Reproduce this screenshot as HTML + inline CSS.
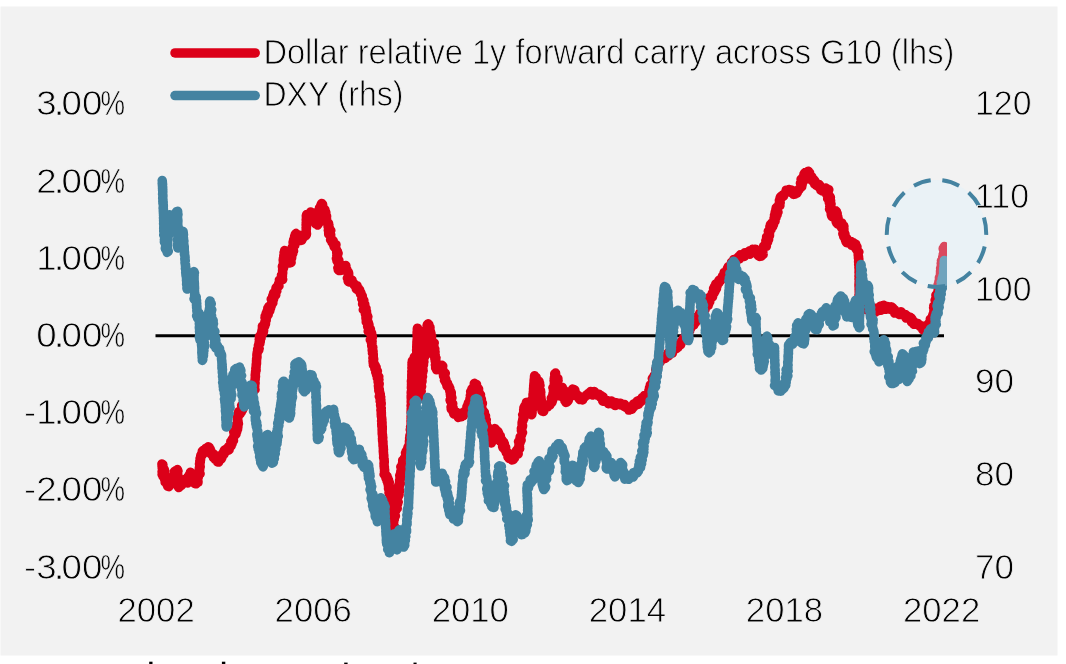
<!DOCTYPE html>
<html><head><meta charset="utf-8"><title>Chart</title>
<style>
html,body{margin:0;padding:0;background:#fff;}
body{width:1066px;height:664px;overflow:hidden;position:relative;}
svg{display:block;position:absolute;left:0;top:0;}
text{font-family:"Liberation Sans",sans-serif;font-size:35.6px;fill:#000;stroke:#f2f2f2;stroke-width:0.85px;vector-effect:non-scaling-stroke;}
</style></head><body>
<svg width="1066" height="664" viewBox="0 0 1066 664">
<rect x="0" y="0" width="1066" height="664" fill="#ffffff"/>
<rect x="0.5" y="6.5" width="1057" height="649" fill="#f2f2f2"/>
<g fill="#000"><rect x="149.2" y="661.7" width="3.3" height="2.3"/><rect x="221.9" y="661.7" width="3.4" height="2.3"/><rect x="344.2" y="662.6" width="3.4" height="1.4"/><rect x="413.5" y="662.6" width="3.1" height="1.4"/></g>
<clipPath id="plot"><rect x="150" y="150" width="797" height="420"/></clipPath>
<line x1="155.5" y1="335.8" x2="944" y2="335.8" stroke="#000" stroke-width="3"/>
<g clip-path="url(#plot)" fill="none" stroke-width="9.5" stroke-linejoin="round" stroke-linecap="round">
<polyline stroke="#dc0019" points="161.9,464.0 162.9,464.8 162.1,465.9 162.8,466.7 162.2,467.8 162.3,468.7 164.2,469.3 164.5,470.2 162.1,471.6 164.1,472.2 164.3,473.1 162.1,474.5 163.9,475.1 162.9,476.2 164.1,477.0 164.6,477.8 164.6,479.0 166.4,479.2 165.4,480.7 165.2,481.9 166.6,482.3 166.4,483.5 167.0,484.3 169.2,484.3 167.6,486.2 168.8,486.7 169.4,485.9 168.9,484.7 168.5,483.5 171.3,483.6 170.5,482.3 171.6,481.7 172.4,481.0 172.3,479.9 173.3,479.3 172.1,477.8 173.6,477.4 173.0,476.1 173.5,475.3 175.2,475.2 175.6,474.3 174.1,472.1 174.7,471.4 175.5,470.7 178.0,471.1 177.3,469.5 177.4,470.5 177.4,471.4 177.6,472.4 177.6,473.3 177.7,474.3 177.8,475.2 177.7,476.2 177.8,477.1 177.7,478.1 177.9,479.0 177.8,480.0 178.0,480.9 178.0,481.9 178.2,482.8 178.5,483.8 178.2,484.8 178.2,485.7 178.3,486.7 178.6,487.6 179.3,486.9 180.2,486.4 179.4,484.8 181.6,485.1 181.4,483.8 181.2,482.5 181.2,481.4 183.8,482.0 184.6,481.4 183.9,479.8 185.6,479.2 184.7,481.9 186.4,481.4 187.8,481.3 187.7,482.9 187.3,481.8 189.0,481.2 189.6,480.3 187.3,478.7 189.3,478.2 187.9,476.8 190.1,476.3 189.2,475.1 191.1,474.5 191.7,473.6 190.5,472.3 190.9,473.2 190.0,474.8 192.3,474.7 193.4,475.3 192.4,476.9 194.4,477.0 194.4,478.1 194.2,479.3 194.1,480.4 195.8,480.7 196.5,481.4 194.6,483.4 196.1,483.8 195.8,482.7 198.0,482.3 198.0,481.3 196.7,479.9 197.2,479.0 197.6,478.1 198.3,477.3 198.4,476.3 198.5,475.3 198.9,474.4 200.1,473.7 199.1,472.5 199.3,471.5 199.3,470.6 199.7,469.6 199.3,468.7 199.4,467.7 200.2,466.8 199.9,465.9 200.0,464.9 199.5,463.9 200.0,463.0 200.3,462.1 199.8,461.1 200.5,460.2 200.6,459.3 200.1,458.3 200.8,457.4 200.7,456.4 200.8,455.5 201.8,455.2 201.5,453.9 202.9,453.9 203.5,453.3 202.4,451.2 203.0,450.6 204.6,450.8 205.7,450.5 207.0,450.5 205.9,448.2 207.0,448.0 208.0,447.7 208.4,446.8 209.3,447.4 209.6,448.3 210.2,449.1 210.4,450.0 210.2,451.2 211.4,451.7 211.6,452.6 210.9,454.0 212.1,454.5 213.8,454.2 213.1,456.0 213.3,457.1 215.0,456.9 215.8,457.4 215.0,459.3 216.9,458.8 217.6,459.4 217.7,460.6 217.6,461.8 218.7,462.1 217.9,460.7 219.0,460.2 219.4,459.3 221.2,459.1 220.4,457.8 222.0,457.5 220.4,455.7 221.3,455.1 222.5,454.6 222.5,453.6 224.1,454.1 223.9,452.2 224.0,451.0 224.5,450.1 226.2,450.6 226.2,449.0 228.4,450.1 229.2,449.6 229.1,448.0 228.6,446.7 229.3,446.0 231.1,445.8 231.1,444.7 231.9,444.1 231.0,442.6 230.8,441.5 231.6,440.8 233.5,440.6 232.4,439.0 233.0,438.3 233.8,437.6 233.8,436.6 234.0,435.7 234.2,434.7 236.0,434.1 233.9,432.6 233.7,431.6 236.8,431.3 236.8,430.3 237.4,429.5 236.0,428.1 237.8,427.6 237.9,426.6 236.0,425.1 237.9,424.6 238.4,423.7 237.6,422.5 238.1,421.6 237.9,420.6 237.5,419.6 237.7,418.7 237.6,417.7 237.4,416.8 238.6,416.0 238.5,415.0 238.3,413.8 240.2,413.7 238.6,411.7 241.4,412.0 241.2,410.9 242.3,410.3 242.7,409.4 243.1,408.5 242.7,407.2 241.6,405.5 244.0,405.6 242.9,404.0 243.7,403.3 245.1,402.9 245.2,401.8 245.3,400.8 246.0,400.0 247.7,400.0 247.4,398.6 247.3,397.3 247.6,396.4 249.8,396.7 249.3,395.2 250.7,394.9 250.2,393.3 250.3,392.3 251.8,392.1 253.0,391.8 252.0,389.8 254.1,390.1 255.0,389.6 254.5,388.0 254.7,387.0 254.8,386.1 254.5,385.1 254.9,384.1 255.1,383.1 254.7,382.1 254.9,381.2 255.0,380.2 255.2,379.2 255.2,378.3 255.3,377.3 255.5,376.3 255.2,375.3 255.3,374.4 255.5,373.4 255.5,372.4 255.6,371.4 256.1,370.5 256.1,369.5 255.8,368.5 256.1,367.6 256.1,366.6 256.2,365.6 256.2,364.6 256.5,363.7 256.5,362.7 256.5,361.7 256.5,360.7 256.6,359.8 256.6,358.8 256.9,357.8 257.0,356.9 256.9,355.9 256.9,354.9 257.0,353.9 257.2,353.0 257.3,352.0 257.8,351.1 258.6,350.3 257.6,349.1 259.1,348.4 258.7,347.4 258.4,346.3 258.4,345.3 259.0,344.4 259.8,343.6 259.2,342.5 260.2,341.7 259.7,340.6 259.3,339.5 260.4,338.8 261.1,338.0 259.4,336.6 260.7,335.9 261.1,335.0 261.1,334.0 262.8,333.5 263.2,332.6 261.8,331.2 263.6,330.7 263.6,329.7 262.3,328.3 263.2,327.5 262.4,326.3 264.8,326.0 264.6,324.9 265.5,324.2 265.5,323.2 264.9,322.0 265.7,321.2 266.2,320.3 266.0,319.2 265.0,317.8 266.7,317.4 265.3,315.9 266.0,315.0 268.2,314.7 266.3,313.1 266.8,312.2 267.1,311.2 269.8,311.0 268.0,309.4 267.8,308.3 270.6,308.2 268.8,306.5 271.2,306.3 270.5,305.0 271.3,304.3 272.2,303.6 272.8,302.9 272.1,301.6 273.0,300.9 271.2,299.2 273.6,299.1 273.2,298.0 274.1,297.3 272.7,295.7 274.9,295.6 275.8,294.9 273.6,293.0 274.7,292.5 275.7,291.8 276.8,291.2 276.2,290.0 275.9,288.8 276.1,287.9 276.7,287.1 278.1,286.7 278.9,286.0 278.3,284.7 278.6,283.8 279.1,283.0 279.4,282.1 280.0,281.3 279.4,280.0 281.0,279.7 282.7,279.5 281.8,278.0 281.8,277.0 282.4,276.1 281.6,275.0 282.5,274.1 282.7,273.1 282.7,272.1 282.6,271.1 282.6,270.1 283.0,269.2 283.5,268.2 282.4,267.1 282.4,266.1 283.5,265.3 283.9,264.3 283.4,263.3 283.4,262.3 283.9,261.3 283.2,260.3 283.4,259.3 283.4,258.3 284.1,257.4 283.8,256.4 283.8,255.4 284.6,254.5 285.1,253.5 284.2,252.4 284.9,251.5 284.7,250.5 285.3,251.3 284.3,252.7 285.5,253.3 286.7,253.8 287.2,254.7 288.1,255.4 287.1,256.8 287.7,257.6 288.7,258.2 288.5,259.3 288.9,260.2 287.9,261.6 290.1,261.8 289.4,263.1 291.1,262.5 289.8,261.2 290.3,260.3 290.2,259.3 291.5,258.6 291.7,257.6 291.1,256.5 291.0,255.5 292.0,254.7 292.6,253.8 291.4,252.6 292.7,251.8 293.6,251.0 292.3,249.8 291.8,248.6 292.0,247.7 293.7,247.1 293.8,246.1 294.8,245.3 294.7,244.3 293.1,242.9 293.1,242.0 293.6,241.0 293.6,240.0 295.3,239.4 296.0,238.6 296.4,237.7 294.6,236.3 296.7,235.8 295.2,234.4 296.0,233.6 296.7,234.2 296.5,235.5 298.6,235.1 299.1,235.9 297.8,238.0 299.7,237.8 300.0,238.6 300.0,239.8 300.7,240.4 301.8,240.1 300.9,237.8 302.4,237.9 303.3,237.4 304.2,236.8 304.2,235.4 305.8,235.6 306.3,234.7 306.5,233.7 306.2,232.7 306.3,231.7 306.1,230.7 306.2,229.7 306.4,228.7 306.1,227.7 306.5,226.7 306.5,225.7 306.1,224.8 306.5,223.8 306.2,222.8 306.4,221.8 306.4,220.8 306.2,219.8 306.4,218.8 306.4,217.8 306.4,216.8 306.3,215.8 306.7,214.5 308.4,216.1 309.6,216.5 309.9,215.0 310.5,214.1 310.6,212.0 312.1,213.2 312.9,212.8 313.7,213.5 312.9,214.8 313.4,215.6 314.0,216.4 315.5,216.8 314.5,218.2 314.9,219.1 316.5,219.5 314.8,221.1 315.8,221.8 317.7,222.0 315.7,223.8 318.3,223.8 317.6,225.1 317.3,224.1 318.6,223.4 318.4,222.3 318.5,221.4 319.0,220.5 318.6,219.4 318.3,218.4 318.1,217.4 317.9,216.4 320.1,215.8 320.4,214.9 319.9,213.9 320.7,213.0 319.7,211.9 319.6,210.9 320.2,210.0 321.8,209.4 319.5,207.9 321.1,207.3 320.5,206.2 322.3,205.5 321.2,204.4 321.8,203.5 322.6,204.3 322.6,205.3 322.5,206.4 322.1,207.5 323.6,208.1 322.4,209.5 324.9,209.8 324.7,210.9 325.5,211.7 325.8,212.6 324.0,214.2 324.5,215.1 326.4,215.5 326.6,216.5 326.0,217.7 326.5,218.6 325.7,219.8 325.8,220.8 326.2,221.7 326.9,222.5 328.5,223.1 328.0,224.2 328.8,225.0 328.1,226.2 328.2,227.2 329.5,227.9 329.6,228.8 328.3,230.2 330.8,230.6 328.7,232.1 328.7,233.1 328.7,234.1 330.7,234.6 330.4,235.7 330.8,236.6 330.9,237.6 331.2,238.5 330.6,239.8 331.8,240.3 333.2,240.7 332.0,242.3 333.5,242.7 333.5,243.7 333.5,244.7 336.0,244.7 334.1,246.5 334.8,247.3 335.7,247.9 336.0,248.9 336.4,249.7 336.6,250.6 337.4,251.5 336.7,252.6 338.1,253.3 337.1,254.5 336.8,255.5 337.5,256.3 337.3,257.3 336.4,258.4 336.7,259.3 338.8,260.0 337.2,261.2 337.8,262.1 339.4,262.8 338.7,263.9 339.2,264.8 339.7,265.7 338.7,266.8 337.8,267.9 339.5,268.6 338.2,269.8 339.3,270.6 340.5,270.6 339.9,268.4 342.3,270.0 342.5,268.7 344.0,269.1 344.2,267.9 345.0,267.4 344.8,265.7 345.9,265.6 345.1,266.7 344.9,267.7 345.3,268.7 346.8,269.4 345.9,270.5 346.9,271.3 348.3,272.1 348.6,273.0 348.7,274.0 348.5,275.0 348.8,276.0 347.9,277.1 347.4,278.2 348.1,279.0 348.6,279.9 348.1,281.0 348.7,281.9 348.5,280.9 349.2,280.5 350.4,280.1 350.0,279.1 350.8,279.7 352.0,280.0 350.8,282.2 351.8,282.6 353.3,282.7 353.8,283.5 354.0,284.6 354.5,285.5 356.0,285.6 357.1,285.9 357.2,287.1 356.3,288.9 358.5,288.5 358.3,289.9 359.6,290.2 359.4,291.5 360.6,292.2 361.0,293.1 360.6,294.2 361.6,295.0 362.3,295.8 362.3,296.8 362.4,297.8 361.8,299.0 363.4,299.6 363.8,300.5 362.8,301.8 363.2,302.7 362.6,304.0 364.8,304.3 364.1,305.6 364.1,306.6 364.6,307.5 366.0,308.2 363.3,309.7 365.8,310.2 366.4,311.0 365.4,312.2 366.6,312.9 365.4,314.2 366.5,314.9 367.4,315.7 367.8,316.6 365.9,318.0 367.5,318.7 366.2,319.9 367.4,320.7 366.2,321.9 368.3,322.4 367.9,323.5 368.9,324.3 369.0,325.2 367.6,326.5 368.4,327.4 369.4,328.1 370.4,328.9 368.8,330.2 368.2,331.4 369.5,332.1 371.5,332.6 371.7,333.6 371.7,334.6 371.6,335.6 372.3,336.4 372.4,337.4 370.8,338.7 370.3,339.8 371.7,340.5 372.1,341.4 371.4,342.5 372.0,343.4 371.8,344.4 371.7,345.4 371.8,346.4 372.8,347.3 372.6,348.3 372.4,349.3 372.2,350.3 373.1,351.2 373.0,352.2 372.5,353.2 373.3,354.1 373.2,355.1 373.3,356.1 373.1,357.1 372.9,358.1 373.7,359.0 373.5,360.0 373.0,361.1 373.3,362.1 373.2,363.1 374.3,363.8 373.4,365.0 375.3,365.5 375.4,366.5 376.2,367.3 374.8,368.7 375.9,369.4 376.8,370.2 377.3,371.0 375.9,372.4 376.5,373.2 376.4,374.3 377.6,375.0 377.5,376.0 378.8,376.7 377.3,378.0 378.2,378.8 378.9,379.7 378.4,380.7 378.1,381.8 378.4,382.7 379.2,383.6 379.1,384.6 378.4,385.7 378.8,386.6 378.6,387.6 378.7,388.6 379.3,389.5 378.8,390.5 379.1,391.5 379.8,392.4 379.8,393.4 380.3,394.3 380.0,395.3 379.3,396.4 380.6,397.2 380.0,398.3 380.7,399.2 380.9,400.1 380.2,401.2 380.9,402.1 381.2,403.1 381.2,404.0 380.6,405.1 380.8,406.0 381.0,407.0 381.3,408.0 381.2,409.0 380.9,410.0 381.3,411.0 381.2,412.0 381.4,413.0 381.2,414.0 381.4,414.9 381.3,415.9 381.5,416.9 381.7,417.9 381.8,418.9 381.9,419.9 381.6,420.9 382.0,421.9 382.1,422.9 381.7,423.9 382.1,424.9 381.8,425.9 382.3,426.8 382.1,427.8 382.3,428.8 382.1,429.8 382.2,430.8 382.2,431.8 382.2,432.8 382.2,433.8 382.5,434.8 382.5,435.8 382.6,436.8 382.8,437.7 382.5,438.8 382.7,439.7 382.6,440.7 383.0,441.7 382.9,442.7 383.0,443.7 383.0,444.7 383.0,445.7 383.3,446.6 383.3,447.6 383.3,448.6 383.5,449.6 383.3,450.6 383.3,451.5 383.5,452.5 383.5,453.5 383.6,454.5 383.8,455.4 383.8,456.4 383.6,457.4 383.9,458.4 384.0,459.3 384.2,460.3 384.2,461.3 384.3,462.3 384.0,463.3 384.1,464.2 384.1,465.2 384.1,466.2 384.4,467.1 384.3,468.1 384.5,469.1 384.7,470.1 384.5,471.1 384.5,472.0 384.8,473.0 384.1,474.5 385.8,474.6 385.5,475.9 387.0,476.2 385.9,477.9 387.7,478.0 386.8,479.1 388.5,479.8 387.0,481.0 389.0,481.7 389.3,482.6 387.9,483.8 389.1,484.6 388.7,485.6 388.5,486.6 390.1,487.4 388.5,488.6 389.8,489.4 389.5,490.4 389.9,491.3 389.0,492.4 389.1,493.4 390.4,494.2 391.0,495.1 390.6,496.1 390.5,497.1 391.4,497.9 390.5,499.0 390.7,500.0 390.5,501.0 390.6,501.9 390.6,502.9 390.7,503.9 390.8,504.8 391.1,505.8 391.3,506.8 391.3,507.7 391.3,508.7 391.4,509.7 391.4,510.7 391.6,511.6 391.5,512.6 391.8,513.6 391.8,514.5 391.7,515.5 391.8,516.5 392.1,517.4 392.2,518.4 392.0,519.4 392.5,520.3 392.5,521.3 392.4,522.3 392.5,523.3 392.8,524.2 392.9,525.2 392.9,526.2 392.7,527.2 392.9,528.1 393.0,529.1 394.2,528.3 393.9,527.3 394.5,526.4 392.4,525.2 392.9,524.3 392.6,523.3 393.7,522.4 393.6,521.5 393.1,520.4 394.3,519.6 393.4,518.5 394.0,517.6 394.0,516.7 395.4,515.9 394.6,514.8 394.4,513.8 394.0,512.8 395.2,512.0 395.2,511.0 395.9,510.2 396.3,509.3 397.2,508.5 397.0,507.5 395.5,506.2 395.3,505.2 397.4,504.6 397.7,503.7 397.0,502.6 398.1,501.9 397.5,500.8 396.8,499.7 396.6,498.7 396.3,497.7 398.0,497.0 398.4,496.1 399.0,495.1 399.1,494.2 398.4,493.1 398.9,492.2 399.5,491.2 399.4,490.2 399.1,489.2 398.8,488.2 399.2,487.2 398.6,486.2 398.7,485.2 399.8,484.4 400.5,483.4 399.8,482.4 399.6,481.4 399.6,480.4 399.9,479.4 400.7,478.5 400.1,477.5 401.2,476.6 399.8,475.5 400.2,474.5 400.7,473.6 400.8,472.6 400.8,471.6 402.3,471.1 402.5,470.1 403.1,469.3 402.3,468.1 400.8,466.8 402.7,466.3 402.9,465.3 402.9,464.4 402.5,463.3 404.0,462.7 404.9,462.0 402.7,460.4 404.6,460.0 404.0,458.8 404.6,458.0 405.0,457.1 406.5,456.6 407.0,455.8 406.5,454.5 405.5,453.0 408.0,452.9 406.2,451.2 407.2,450.5 408.8,450.1 407.7,448.6 407.9,447.6 410.2,447.4 409.3,446.0 409.8,445.1 409.3,444.1 409.5,443.1 409.5,442.2 409.4,441.2 409.6,440.3 410.3,439.4 409.6,438.3 409.8,437.4 409.9,436.4 409.9,435.5 410.4,434.5 410.6,433.6 410.8,432.7 410.7,431.7 411.0,430.8 410.3,429.7 410.7,428.8 411.4,427.9 410.6,426.9 410.9,425.9 411.2,425.0 411.2,424.0 411.1,423.0 411.2,422.1 411.0,421.1 411.1,420.1 411.5,419.1 411.1,418.2 411.5,417.2 411.1,416.2 411.5,415.2 411.4,414.3 411.4,413.3 411.1,412.3 411.1,411.3 411.4,410.4 411.2,409.4 411.2,408.4 411.5,407.4 411.5,406.5 411.1,405.5 411.6,404.5 411.4,403.5 411.3,402.6 411.2,401.6 411.3,400.6 411.6,399.6 411.3,398.7 411.2,397.7 411.2,396.7 411.2,395.7 411.4,394.8 411.6,393.8 411.2,392.8 411.3,391.8 411.7,390.9 411.7,389.9 411.7,388.9 411.4,387.9 411.4,387.0 411.7,386.0 411.5,385.0 411.5,384.0 411.7,383.1 411.5,382.1 411.4,381.2 411.6,380.2 411.8,379.3 411.9,378.3 411.8,377.4 411.8,376.4 411.8,375.5 411.8,374.5 411.9,373.5 412.1,372.6 411.8,371.6 412.0,370.7 412.2,369.7 412.2,368.8 411.9,367.8 412.3,366.9 412.3,365.9 412.0,364.9 412.2,364.0 412.0,362.8 412.3,362.0 412.3,360.9 415.3,361.5 414.2,359.9 415.9,359.8 414.2,357.8 414.4,356.9 417.2,357.4 416.6,356.0 416.8,355.0 416.9,354.0 416.8,353.0 416.7,352.0 416.9,351.1 416.6,350.1 416.8,349.1 416.8,348.1 416.7,347.1 416.9,346.1 416.8,345.1 416.9,344.1 416.9,343.1 416.9,342.1 417.0,341.2 417.1,340.2 417.3,339.2 417.3,338.2 417.3,337.2 417.3,336.2 417.1,335.2 417.5,334.2 417.1,333.2 417.1,332.3 417.3,331.3 417.5,330.3 417.3,329.3 417.4,328.3 417.4,329.3 417.6,330.3 417.3,331.3 417.6,332.3 417.6,333.3 417.6,334.2 417.5,335.2 417.5,336.2 417.7,337.2 417.8,338.2 417.8,339.2 418.1,340.2 417.9,341.2 417.8,342.2 417.8,343.2 418.2,344.1 417.9,345.1 418.1,346.1 417.9,347.1 418.2,348.1 418.3,349.1 418.2,350.1 418.1,351.1 418.3,352.1 418.2,353.1 418.3,354.1 418.5,355.0 418.5,356.0 418.5,357.0 418.6,358.0 418.6,359.0 418.6,360.0 418.6,361.0 418.5,362.0 418.7,362.9 418.9,363.9 418.9,364.9 418.9,365.9 418.8,366.8 419.1,367.8 419.1,368.8 419.0,369.8 419.1,370.7 419.3,371.7 419.0,372.7 418.9,373.7 419.1,374.7 419.1,375.6 419.1,376.6 419.1,377.6 419.1,378.6 419.3,379.5 419.3,380.5 419.6,381.5 419.2,382.5 419.5,383.4 419.5,384.4 419.3,385.4 419.7,386.4 419.8,387.3 419.5,388.3 419.6,389.3 419.9,390.3 420.0,391.3 419.9,392.2 420.1,393.2 419.7,394.2 420.0,395.2 420.0,396.1 420.0,397.1 420.0,398.1 420.1,397.1 420.1,396.1 420.4,395.2 420.5,394.2 420.4,393.2 420.1,392.2 421.2,391.3 420.9,390.3 420.4,389.3 420.9,388.3 421.3,387.4 421.6,386.4 420.7,385.4 420.8,384.4 421.4,383.4 421.4,382.5 422.0,381.5 422.0,380.5 421.6,379.5 421.8,378.6 422.0,377.6 422.5,376.6 421.8,375.6 422.1,374.6 421.9,373.6 422.6,372.7 422.0,371.7 423.1,370.8 422.7,369.8 422.9,368.8 422.4,367.8 422.7,366.8 423.0,365.9 423.5,364.9 423.3,363.9 423.1,362.9 423.9,362.0 423.7,361.0 423.6,360.0 423.8,359.0 423.2,358.0 423.5,357.0 424.9,356.2 423.4,355.0 424.4,354.1 424.7,353.2 424.2,352.1 425.2,351.3 425.7,350.3 425.7,349.3 425.5,348.3 424.5,347.2 424.3,346.2 425.2,345.3 425.1,344.3 425.0,343.3 426.5,342.5 425.3,341.3 426.7,340.5 427.0,339.6 425.4,338.4 427.2,337.6 426.2,336.5 426.0,335.5 426.0,334.5 425.8,333.5 426.9,332.6 426.8,331.6 427.9,330.7 428.0,329.8 426.5,328.6 427.3,327.7 427.4,326.7 427.1,325.7 427.4,324.7 428.0,323.8 428.9,324.6 427.8,325.8 429.1,326.5 430.0,327.3 429.9,328.4 429.4,329.4 429.2,330.5 430.4,331.2 429.2,332.4 430.9,333.1 429.7,334.3 430.1,335.2 431.6,335.9 430.0,337.2 431.0,338.0 431.6,338.8 431.5,339.8 431.7,340.8 431.9,341.7 432.8,342.4 434.2,342.9 432.4,344.5 432.5,345.5 433.9,346.0 434.0,347.0 434.0,348.0 434.7,348.9 433.6,350.1 434.1,351.0 435.1,351.9 434.1,353.0 433.9,354.0 435.2,354.9 434.1,356.0 435.2,356.9 435.9,357.8 435.0,358.9 435.8,359.8 435.2,360.9 435.5,361.9 436.5,362.8 435.9,363.9 435.4,364.9 436.2,365.8 436.2,366.8 435.7,367.9 436.6,368.8 436.6,369.8 437.3,369.2 438.1,368.9 439.4,369.0 438.6,366.7 439.0,365.8 441.3,367.2 441.4,366.0 442.0,365.3 442.8,366.1 441.2,367.4 441.4,368.3 442.7,369.0 441.5,370.3 442.2,371.1 442.6,372.0 444.2,372.6 445.3,373.3 443.5,374.7 443.5,375.7 444.9,376.3 444.7,377.3 444.6,378.3 445.8,379.1 444.6,380.3 445.2,381.1 445.6,382.0 446.3,382.6 447.5,383.0 446.7,384.5 447.8,384.9 447.1,386.3 449.0,386.3 448.8,387.4 449.8,388.0 449.6,389.1 449.8,390.0 449.7,391.0 451.0,391.9 451.3,392.8 450.4,394.0 451.2,394.9 450.6,395.9 451.6,396.8 451.9,397.8 450.9,398.9 450.1,400.0 450.4,401.0 451.4,401.9 451.8,402.8 452.7,403.7 452.4,404.8 452.4,405.8 451.0,407.0 453.1,407.7 451.2,409.0 452.5,409.8 452.6,410.8 453.5,411.2 454.7,411.2 453.8,413.9 456.4,412.2 456.2,413.9 457.1,414.3 458.6,413.9 459.3,414.6 458.3,417.5 460.2,416.6 461.6,416.7 462.2,415.9 463.4,415.8 462.2,412.9 464.4,413.9 465.2,413.4 464.7,411.3 466.0,411.3 466.8,410.8 468.5,410.3 466.8,408.8 468.4,408.2 466.9,406.8 468.6,406.3 467.7,405.0 468.7,404.3 468.5,403.2 470.3,402.7 470.2,401.7 469.7,400.5 470.5,399.7 470.0,398.6 470.5,397.7 471.7,397.0 470.3,395.6 471.4,394.9 471.8,394.0 471.4,392.8 470.7,391.6 471.3,390.8 473.0,390.2 471.9,388.9 473.8,388.4 473.3,387.2 474.9,386.6 474.8,385.6 474.7,384.5 474.3,383.4 475.1,384.1 476.5,384.4 475.6,386.1 475.5,387.2 475.5,388.3 477.9,388.1 478.5,388.9 476.7,391.0 477.9,391.5 479.0,392.0 479.2,392.9 478.6,394.0 480.5,394.7 479.5,395.8 479.3,396.8 479.6,397.7 481.1,398.4 481.4,399.4 480.0,400.6 479.4,401.6 481.8,402.2 482.4,403.1 482.3,404.1 480.3,405.4 481.7,406.1 481.6,407.1 480.1,408.3 481.8,409.0 481.7,410.0 483.1,410.6 482.0,412.0 484.4,412.3 483.8,413.5 482.8,414.7 484.7,415.2 485.4,416.0 484.2,417.4 485.0,418.1 483.4,419.6 486.3,419.8 484.4,421.3 485.6,422.0 486.2,422.9 485.2,424.2 486.5,424.8 486.1,426.0 487.4,426.6 488.0,427.5 487.5,428.6 486.7,429.9 488.4,430.5 489.0,431.3 488.7,432.4 489.9,433.1 489.5,434.3 488.9,435.4 489.3,436.4 489.4,437.4 490.6,438.1 491.6,438.8 491.9,439.8 491.2,441.0 491.9,441.8 491.2,443.0 491.7,442.1 491.0,440.9 492.8,440.3 492.5,439.2 493.0,438.3 493.4,437.4 493.0,436.3 493.0,435.3 492.9,434.2 492.4,433.1 494.9,432.7 494.2,431.5 493.3,430.2 496.0,429.9 495.0,428.6 495.3,429.6 495.6,430.5 496.6,431.1 497.9,431.5 496.0,433.7 498.8,433.3 498.7,434.5 497.4,436.3 500.3,435.8 499.8,437.3 500.3,438.1 500.7,439.0 501.8,439.6 500.2,441.3 502.1,441.6 503.6,442.0 502.6,443.4 504.4,443.7 502.7,445.5 502.6,446.5 502.9,447.5 505.7,447.3 504.3,449.0 505.7,449.4 505.6,450.5 506.5,451.2 506.3,452.3 507.4,452.7 508.4,453.1 507.7,454.8 509.6,454.6 508.0,457.0 510.9,456.0 509.1,458.5 511.6,457.8 512.5,458.4 512.0,459.9 513.2,459.6 513.2,458.4 514.4,458.1 514.3,456.9 515.1,456.3 514.3,454.6 516.4,454.9 516.5,453.8 518.2,453.9 517.6,452.3 516.3,451.0 516.7,450.1 518.8,449.6 519.7,448.8 518.4,447.5 519.5,446.8 519.3,445.7 519.0,444.7 519.4,443.8 520.0,442.9 518.5,441.6 519.5,440.8 521.1,440.2 519.8,438.9 520.7,438.1 520.2,437.0 520.8,436.1 521.4,435.3 521.7,434.4 522.0,433.4 522.5,432.5 521.8,431.4 521.4,430.4 521.8,429.4 521.4,428.4 521.8,427.5 522.5,426.5 522.6,425.6 522.1,424.5 522.1,423.6 522.1,422.6 522.3,421.6 523.0,420.7 522.7,419.7 523.8,418.8 523.4,417.8 523.1,416.8 523.4,415.8 522.8,414.8 524.1,413.9 524.2,412.9 523.7,411.9 524.4,411.0 523.7,409.9 524.2,409.0 523.9,407.7 524.4,406.9 524.8,406.0 526.4,405.8 527.0,405.0 527.7,404.2 526.4,402.4 528.0,402.2 527.5,403.3 528.6,404.0 529.2,404.8 529.0,405.8 529.5,406.6 530.5,407.3 530.2,408.4 529.7,409.5 529.7,410.4 529.4,411.5 531.8,411.8 530.0,413.3 530.5,414.1 531.7,414.7 531.9,413.7 532.1,412.8 531.7,411.8 532.1,410.8 532.3,409.9 532.0,408.9 532.3,407.9 532.5,406.9 532.3,405.9 532.6,405.0 532.7,404.0 532.5,403.0 532.5,402.0 532.6,401.1 532.9,400.1 532.8,399.1 532.8,398.2 533.0,397.2 533.3,396.2 533.0,395.2 533.0,394.3 533.5,393.3 533.3,392.3 533.4,391.4 533.7,390.4 533.5,389.4 533.5,388.4 533.9,387.5 533.7,386.5 533.7,385.5 534.2,384.6 533.9,383.6 534.3,382.6 534.1,381.6 534.1,380.7 534.2,379.7 534.4,378.7 534.5,377.7 534.5,376.8 534.6,375.8 535.0,376.7 536.1,377.2 535.1,378.9 535.3,379.9 536.3,380.5 536.5,381.5 539.1,381.3 539.0,382.4 539.6,383.2 539.3,384.5 539.9,385.4 538.8,386.5 539.0,387.5 539.1,388.5 539.7,389.4 540.5,390.3 540.1,391.3 540.7,392.3 539.6,393.4 540.6,394.2 540.7,395.2 539.9,396.3 541.0,397.2 540.1,398.3 541.1,399.1 540.7,400.2 541.6,401.1 540.5,402.2 541.3,403.1 541.5,404.0 541.2,405.1 541.4,406.0 542.0,407.0 542.2,407.9 541.7,409.0 542.6,409.9 542.0,410.9 543.7,411.5 543.2,409.2 543.6,408.1 544.8,408.0 545.1,406.7 546.4,406.8 547.7,406.9 548.2,405.9 548.8,405.1 550.0,405.0 549.7,403.9 550.7,403.2 551.9,402.6 551.2,401.3 552.5,400.7 552.0,399.5 551.3,398.2 552.8,397.7 552.3,396.6 553.7,395.8 553.1,394.7 553.0,393.7 553.4,392.8 554.1,391.8 553.4,390.8 553.4,389.8 553.6,388.8 553.0,387.7 554.1,386.8 554.1,385.8 554.2,384.9 554.3,383.9 554.4,382.9 555.0,381.9 554.1,380.8 555.7,380.0 554.2,378.8 555.7,378.0 554.5,376.9 555.8,376.0 554.9,374.9 554.7,373.9 555.6,373.0 555.6,374.0 554.9,375.1 555.0,376.0 555.1,377.0 554.9,378.0 557.9,378.5 557.1,379.6 558.1,380.4 556.2,381.7 557.3,382.5 556.6,383.6 556.6,384.6 556.1,385.7 557.3,386.4 556.8,387.5 558.0,388.3 559.6,389.0 557.3,390.4 559.9,390.9 560.0,391.9 557.9,393.2 559.8,393.9 558.7,395.0 559.4,395.9 558.3,394.6 559.1,393.9 560.9,393.5 559.1,392.0 560.8,391.6 562.4,391.1 560.5,389.5 562.2,389.1 562.6,388.3 562.2,387.2 562.1,388.2 561.9,389.3 562.3,390.2 564.6,390.7 564.3,391.7 563.5,393.0 562.4,394.2 565.0,394.6 564.1,395.9 565.7,396.5 563.8,398.0 565.2,398.6 565.2,399.6 565.0,400.7 566.9,401.3 566.0,402.5 567.1,402.0 567.7,401.2 568.2,400.5 567.0,398.8 567.3,397.9 567.5,397.0 570.0,397.1 569.1,395.7 569.4,394.8 570.2,394.1 571.1,393.5 570.4,392.1 570.9,391.3 572.5,391.1 573.0,390.2 572.6,389.0 573.7,389.5 574.8,389.9 573.2,392.2 574.3,392.7 575.2,393.2 576.3,393.7 575.4,395.5 577.3,395.4 578.4,395.8 579.3,396.4 579.2,397.7 579.2,399.0 580.0,399.6 580.5,398.6 582.6,399.9 582.7,398.4 583.1,397.2 584.3,397.3 585.0,396.5 585.8,396.0 586.3,395.1 587.2,394.6 587.9,393.9 589.5,394.4 589.5,392.8 590.6,391.5 591.2,394.4 592.5,392.3 593.0,395.0 594.5,391.5 595.1,393.6 596.1,393.5 597.0,393.9 597.2,395.1 599.1,394.3 599.6,395.0 600.6,395.3 600.3,397.1 601.0,397.7 603.0,396.7 603.3,397.8 603.9,398.5 602.8,401.2 604.6,400.5 605.5,400.7 606.2,401.5 607.5,400.7 607.7,402.6 608.3,403.6 609.4,403.3 611.4,400.9 611.5,403.1 612.3,403.6 613.9,402.2 614.0,404.4 615.2,405.6 615.7,403.2 616.7,402.9 617.9,404.3 618.8,403.9 619.7,403.4 620.6,403.2 620.5,404.9 622.1,404.5 623.3,404.6 624.7,404.5 624.3,406.5 625.5,406.6 625.9,407.7 627.1,407.8 628.6,407.4 629.3,408.1 629.0,410.1 628.9,408.6 629.4,407.8 631.9,409.2 632.0,407.8 631.8,406.3 633.6,407.0 634.2,406.1 633.5,404.0 635.8,405.2 635.3,403.2 636.6,403.3 638.5,404.3 637.2,401.1 638.3,401.0 639.0,400.3 641.1,401.7 641.0,400.0 642.4,400.5 642.5,399.2 642.2,397.4 643.5,397.8 644.8,398.1 645.0,397.0 644.4,395.4 647.2,396.2 647.5,395.3 648.3,394.7 648.3,393.5 648.6,392.5 650.1,392.4 648.9,390.4 650.0,390.0 649.7,388.9 649.5,387.8 650.0,386.9 652.1,386.6 650.3,385.0 652.6,384.7 651.8,383.4 653.6,383.0 653.5,381.9 653.6,381.0 654.4,380.2 652.3,378.5 654.0,378.0 653.5,376.9 654.1,376.0 654.5,375.2 655.5,374.4 656.4,373.7 656.2,372.6 657.0,371.8 656.6,370.7 655.8,369.5 656.5,368.7 657.5,368.0 657.9,367.1 656.9,365.8 657.5,365.0 657.5,363.9 658.7,363.4 658.1,362.0 660.3,362.0 658.3,359.9 660.5,360.0 660.5,358.9 661.0,358.0 661.3,356.4 662.8,357.6 663.4,356.8 665.1,358.4 665.8,357.8 666.1,356.2 666.8,355.5 668.4,355.9 669.2,355.3 668.2,352.7 670.6,353.9 671.3,353.3 672.4,353.1 672.6,351.8 672.5,350.1 672.8,349.0 674.6,349.6 674.3,347.7 676.4,348.6 676.7,347.5 678.0,347.5 678.0,346.0 678.2,345.0 678.7,344.2 680.7,344.7 680.7,343.5 680.6,342.2 681.7,341.8 681.9,340.9 683.0,340.6 683.3,339.6 683.3,338.4 685.6,339.1 685.9,338.2 685.6,336.7 686.8,336.3 685.9,334.7 686.2,333.8 688.1,333.8 688.8,333.1 688.8,332.0 688.1,330.5 689.9,330.4 689.8,329.3 689.9,328.3 690.9,327.8 691.0,326.7 692.0,326.2 692.8,325.5 693.9,325.1 693.0,323.5 692.7,322.0 694.4,322.1 695.9,322.1 695.8,320.7 696.2,319.8 697.5,319.6 696.1,317.2 698.6,317.9 698.7,316.8 699.3,316.0 699.2,314.7 700.5,314.5 699.9,312.8 701.5,312.8 701.5,311.5 703.7,312.0 704.0,311.0 703.8,309.6 705.1,309.4 704.8,307.9 705.8,307.4 706.3,306.6 705.8,305.3 708.2,305.4 708.4,304.4 708.8,303.5 707.3,301.7 709.8,301.8 708.0,299.8 710.0,299.7 710.2,298.8 709.5,297.3 710.9,296.9 712.6,296.7 712.0,295.3 712.8,294.6 712.3,293.3 714.1,293.0 713.2,291.5 715.1,291.3 714.1,289.8 713.6,288.5 716.5,288.7 714.4,286.7 715.3,286.0 717.2,285.7 715.7,284.0 717.3,283.7 717.6,282.7 719.1,282.7 719.0,281.5 719.0,280.3 720.6,280.4 721.3,279.8 721.3,278.6 722.0,278.0 722.3,277.0 722.5,276.0 723.3,275.4 725.2,275.9 725.8,275.2 724.1,272.6 725.1,272.3 725.8,271.6 727.0,271.5 728.3,271.1 727.1,269.4 727.4,268.5 729.5,268.6 728.3,266.8 731.0,267.2 730.0,265.6 731.7,265.4 731.0,264.0 732.4,264.3 731.6,262.1 733.6,263.1 733.4,261.5 733.6,260.4 733.8,259.4 735.5,260.0 736.8,260.1 737.3,259.1 737.5,257.7 739.5,258.9 738.9,256.3 740.3,256.5 740.3,254.8 742.0,255.6 742.6,254.6 744.4,256.4 744.7,254.5 745.0,252.7 746.0,252.7 747.6,254.0 747.8,252.1 749.8,254.3 750.0,252.3 749.5,250.7 752.0,251.9 752.0,250.8 753.0,250.6 752.8,249.3 753.9,249.5 755.4,249.3 755.9,250.2 755.6,252.1 757.8,251.0 758.3,251.9 757.5,254.5 758.1,255.4 758.9,255.9 759.7,256.5 761.3,256.1 761.8,255.2 763.1,254.6 762.9,253.5 762.8,252.4 762.8,251.3 761.9,250.0 762.4,249.1 763.3,248.4 764.2,247.6 763.5,246.3 766.4,246.3 765.6,245.0 766.4,244.2 766.0,243.0 767.5,242.4 765.8,240.8 768.0,240.5 768.5,239.6 766.8,238.0 766.6,237.0 769.0,236.6 769.5,235.8 769.5,234.7 768.7,233.4 769.5,232.6 768.4,231.2 769.0,230.4 769.9,229.6 771.1,229.0 770.7,227.8 769.9,226.4 772.7,226.6 770.4,224.6 773.5,224.9 771.7,223.1 773.8,223.0 774.1,222.1 774.9,221.4 773.9,219.9 774.9,219.3 774.1,218.0 776.0,217.8 775.4,216.5 774.5,215.2 777.1,214.9 776.4,213.7 775.1,212.4 778.0,212.1 776.4,210.7 775.9,209.5 776.7,208.7 776.3,207.6 777.3,206.9 778.8,206.3 779.9,205.6 779.1,204.3 780.0,203.6 780.2,202.6 780.1,201.6 779.4,200.4 780.0,199.5 780.0,198.3 780.3,197.3 781.9,197.3 781.6,195.9 783.5,196.2 783.0,194.7 784.3,194.4 784.8,193.6 785.5,193.0 785.8,192.0 786.2,190.2 787.3,190.3 788.9,191.8 789.1,189.4 790.7,191.1 791.4,190.0 790.9,191.7 792.9,191.1 792.2,193.1 793.7,193.0 793.5,194.4 795.2,194.1 795.9,193.4 797.0,193.1 797.4,192.2 796.9,190.5 798.2,190.4 799.0,189.8 799.3,188.9 800.0,188.2 800.8,187.4 801.8,186.7 801.7,185.7 802.1,184.7 800.4,183.2 802.3,182.8 802.4,181.8 803.6,181.1 801.1,179.3 801.9,178.5 804.6,178.3 803.1,176.8 804.4,176.2 804.3,175.2 804.0,174.0 804.6,173.2 805.2,172.6 806.2,172.6 807.8,173.8 807.7,171.7 808.4,171.2 807.9,172.4 809.6,172.7 808.8,174.0 809.4,174.8 809.3,175.8 809.3,176.8 811.9,176.8 809.7,178.6 811.0,179.1 812.4,179.6 812.0,180.7 812.9,181.1 814.5,180.4 815.1,181.4 814.6,184.0 815.7,184.1 816.2,185.2 817.8,184.5 819.2,184.6 819.8,185.3 819.7,186.5 819.9,187.4 819.9,188.5 821.4,188.5 820.9,190.1 821.8,190.5 822.5,191.1 822.9,189.9 824.6,191.6 824.1,188.3 825.8,190.1 825.9,188.1 827.2,189.0 828.8,189.7 827.6,190.9 827.7,191.9 827.6,192.9 828.5,193.7 827.0,195.0 827.6,195.8 829.8,196.4 830.4,197.3 827.7,198.8 829.5,199.4 830.6,200.2 830.6,201.2 829.2,202.5 830.0,203.3 831.0,204.1 830.6,205.1 829.9,206.2 831.0,207.0 830.3,208.1 829.6,209.2 830.2,210.1 830.8,211.0 830.9,211.9 832.0,212.7 831.2,213.8 831.3,214.8 831.6,215.7 832.0,216.6 832.5,215.8 833.7,215.4 832.8,213.6 834.7,213.6 835.9,213.3 834.0,210.8 835.7,210.8 836.5,211.6 834.7,212.9 837.2,213.5 835.4,214.7 836.2,215.5 837.7,216.3 836.3,217.4 838.1,218.2 836.0,219.4 837.6,220.2 836.1,221.3 836.3,222.3 838.4,222.9 837.6,224.0 838.6,223.8 839.8,222.8 840.2,225.8 841.8,222.9 842.3,225.0 843.8,225.7 843.9,226.6 841.8,228.1 843.9,228.6 843.9,229.6 843.7,230.6 843.6,231.6 844.2,232.4 842.8,233.7 844.9,234.3 844.7,235.3 843.7,236.5 845.0,237.2 846.1,237.6 846.8,238.4 845.4,240.1 847.2,240.2 846.1,241.8 846.7,242.6 848.0,242.9 849.0,242.4 850.0,242.4 851.0,241.4 851.5,245.2 852.7,243.3 853.7,242.9 854.5,243.8 855.8,244.3 856.0,245.2 854.5,246.8 857.0,246.8 856.1,248.1 856.2,249.1 856.9,249.8 857.3,250.6 857.9,251.4 858.8,252.0 858.3,253.2 858.2,254.1 858.2,255.1 858.4,256.0 858.6,257.0 858.4,257.9 858.8,258.8 858.8,259.8 858.7,260.7 858.6,261.7 858.8,262.6 859.1,263.5 858.7,264.5 859.2,265.4 859.1,266.4 858.9,267.3 859.0,268.3 859.2,269.2 859.1,270.2 859.4,271.2 859.0,272.2 859.2,273.2 859.4,274.2 859.1,275.2 859.0,276.2 859.4,277.1 859.2,278.1 859.0,279.1 859.3,280.1 859.3,281.1 859.1,282.1 859.2,283.1 859.0,284.1 859.0,285.1 859.0,286.1 859.1,287.1 859.3,288.1 859.1,289.1 859.2,290.1 859.2,291.1 859.2,292.1 859.3,293.0 859.3,294.0 859.0,295.0 859.3,296.0 859.4,297.0 859.0,298.0 859.2,299.0 859.2,300.0 859.3,301.1 860.7,301.3 861.8,301.7 861.9,302.9 861.2,304.6 863.2,304.3 862.1,306.3 864.2,306.0 863.3,307.8 865.7,307.3 865.6,308.6 866.0,309.5 867.2,307.9 868.1,308.1 868.8,310.0 869.8,309.4 870.6,310.3 871.7,308.9 872.6,309.5 873.5,309.6 874.3,310.6 875.8,311.9 875.3,308.2 876.7,309.2 878.2,310.7 878.6,309.2 878.9,307.5 881.0,310.2 880.3,306.2 881.8,307.5 882.8,305.8 883.7,305.2 884.6,307.2 885.6,309.2 886.5,306.5 887.5,306.5 888.4,308.9 889.4,307.5 891.1,306.8 892.0,307.2 891.3,309.7 893.4,308.5 893.1,310.4 894.7,309.8 894.4,311.8 894.6,313.1 896.3,312.5 896.9,313.2 898.0,312.3 898.7,314.1 899.6,314.6 901.0,311.7 901.8,312.7 902.6,313.5 903.5,314.2 904.2,314.8 905.5,314.6 905.3,316.3 906.9,315.6 906.2,318.1 908.2,316.9 909.2,317.1 910.2,317.2 910.0,319.0 911.6,318.4 912.1,319.2 911.4,321.8 913.2,321.0 913.9,321.6 913.4,323.8 914.1,324.3 915.3,324.3 916.7,324.0 918.0,323.6 918.6,324.4 918.9,325.5 920.2,325.2 920.4,326.5 921.5,326.7 922.5,326.9 923.2,327.6 922.7,329.6 923.7,329.8 924.7,330.1 925.1,329.2 925.7,328.5 926.6,328.0 927.3,327.4 926.2,325.4 928.8,326.1 928.4,324.7 929.0,324.0 929.1,322.9 931.2,323.1 931.2,322.0 930.6,320.5 930.3,319.1 931.9,319.0 932.4,318.1 932.8,317.2 933.6,316.6 932.6,315.5 934.1,314.7 933.3,313.6 934.9,312.9 934.4,311.8 933.9,310.7 935.6,310.0 934.6,308.9 933.7,307.8 934.4,306.9 933.9,305.8 935.2,305.0 936.7,304.3 936.9,303.4 935.8,302.2 936.5,301.3 935.2,300.0 935.7,299.1 935.8,298.1 936.5,297.3 937.5,296.5 935.9,295.1 937.5,294.4 937.5,293.4 938.4,292.6 939.2,291.8 938.1,290.5 938.6,289.6 939.0,288.7 938.3,287.6 938.9,286.7 939.5,285.8 938.1,284.6 939.4,283.8 939.5,282.8 938.9,281.7 939.2,280.8 940.8,280.0 939.7,278.8 939.4,277.8 939.8,276.9 940.5,276.0 940.6,275.0 940.5,274.0 940.5,273.1 940.6,272.1 940.5,271.1 941.2,270.3 941.5,269.3 940.6,268.3 941.7,267.4 941.2,266.4 942.7,265.6 942.7,264.7 941.2,263.5 942.4,262.7 941.8,261.7 941.5,260.7 943.1,259.9 943.3,259.0 943.2,258.0 942.7,257.0 943.2,256.1 944.3,255.3 943.3,254.2 943.8,253.3 943.9,252.3 944.6,251.4 944.7,250.5 943.3,249.3 943.2,248.3 944.3,247.5 944.3,246.5"/>
<polyline stroke="#4483a1" points="162.2,180.4 162.3,181.4 162.4,182.4 162.2,183.4 162.6,184.3 162.4,185.3 162.5,186.3 162.7,187.3 162.5,188.3 162.8,189.3 162.6,190.3 162.8,191.3 162.8,192.3 162.7,193.3 162.6,194.2 162.9,195.2 162.9,196.2 162.8,197.2 162.7,198.2 162.9,199.2 163.0,200.2 162.8,201.2 163.2,202.1 162.9,203.1 163.2,204.1 163.3,205.1 163.3,206.1 163.3,207.1 163.1,208.1 163.4,209.1 163.3,210.1 163.3,211.0 163.4,212.0 163.4,213.0 163.7,214.0 163.5,215.0 163.7,215.9 163.7,216.9 163.5,217.8 163.6,218.8 163.7,219.7 163.6,220.7 163.7,221.6 163.8,222.6 163.6,223.5 163.7,224.4 163.9,225.4 163.8,226.3 163.8,227.3 163.7,228.2 163.8,229.2 164.0,230.1 163.7,231.1 164.0,232.0 165.3,232.8 164.5,233.9 163.7,235.0 165.6,235.7 164.8,236.9 166.3,237.6 164.6,238.9 164.4,239.9 165.2,240.8 164.4,241.9 166.2,242.6 165.3,243.7 165.7,244.7 165.9,245.6 166.4,246.6 165.4,247.7 165.3,248.7 166.8,249.5 166.4,250.5 168.3,251.2 167.2,252.4 167.4,251.4 167.4,250.4 167.6,249.4 167.6,248.5 167.4,247.4 167.5,246.5 167.7,245.5 167.5,244.5 167.7,243.5 167.6,242.5 167.7,241.5 167.7,240.5 168.1,239.5 167.9,238.5 168.0,237.6 168.1,236.6 168.4,235.6 168.1,234.6 168.3,233.6 168.4,232.6 168.7,231.6 168.7,230.6 168.8,229.7 168.5,228.6 168.7,227.7 168.7,226.7 169.0,225.7 169.1,224.7 168.8,223.7 168.9,222.7 168.9,221.7 169.0,220.7 169.2,219.7 169.3,218.8 169.2,217.8 169.1,216.8 169.4,215.8 169.5,214.8 170.1,215.6 169.8,216.8 168.9,218.0 169.9,218.8 170.7,219.6 170.6,220.6 170.7,221.6 172.8,222.0 170.5,223.7 171.2,224.5 171.1,225.5 171.6,226.4 173.1,227.1 173.0,228.1 173.0,227.1 172.3,225.9 174.2,225.4 172.7,224.0 173.0,223.1 173.7,222.3 173.8,221.3 174.6,220.5 174.0,219.3 174.1,218.4 174.8,217.5 174.9,216.6 175.9,215.9 175.1,214.6 178.0,214.4 177.4,213.3 176.3,211.9 177.6,211.3 177.7,212.3 177.7,213.3 177.7,214.3 177.8,215.3 177.5,216.3 177.4,217.3 177.7,218.3 177.7,219.3 177.9,220.2 177.9,221.2 177.8,222.2 177.8,223.2 177.5,224.2 177.9,225.2 178.0,226.2 177.5,227.2 177.7,228.2 177.9,229.2 177.7,230.2 178.0,231.2 177.8,232.2 177.5,233.2 177.6,234.2 177.7,235.2 177.9,236.2 177.9,237.2 178.0,238.2 177.7,239.1 177.8,240.1 177.7,241.1 177.9,242.1 178.0,243.1 177.7,244.1 177.6,245.1 177.7,246.1 177.7,247.1 177.9,248.1 179.1,247.5 179.2,246.5 177.9,245.1 179.1,244.4 178.9,243.3 178.2,242.1 178.5,241.1 179.5,240.4 179.7,239.5 181.3,238.9 182.4,238.2 181.1,236.9 182.9,236.4 183.3,235.5 183.5,234.5 182.0,233.0 181.9,232.0 183.0,231.3 183.2,232.3 183.3,233.2 183.4,234.2 183.2,235.2 183.2,236.2 183.3,237.2 183.5,238.2 183.5,239.1 183.5,240.1 183.9,241.1 183.7,242.1 183.6,243.1 183.8,244.0 183.9,245.0 184.1,246.0 184.3,247.0 184.1,248.0 184.3,248.9 184.2,249.9 184.2,250.9 184.5,251.9 184.6,252.9 184.4,253.9 184.6,254.8 184.9,255.8 185.0,256.8 185.1,257.7 184.8,258.8 184.9,259.7 185.3,260.7 185.0,261.7 185.0,262.7 185.2,263.6 185.5,264.6 185.4,265.6 185.7,266.6 185.8,267.5 185.4,268.6 185.7,269.5 185.8,270.5 185.9,271.5 185.7,272.5 186.1,273.4 185.9,274.4 186.0,275.4 186.4,276.4 186.4,277.3 186.5,278.3 186.6,279.3 186.5,280.3 186.7,281.3 186.7,282.2 186.9,283.2 186.6,284.2 187.0,285.2 187.0,286.2 187.0,287.1 186.9,288.1 187.2,289.1 187.3,288.1 189.1,287.7 188.3,286.3 188.7,285.5 189.0,284.5 187.9,283.0 189.5,282.6 189.1,281.4 188.9,280.3 191.6,280.2 190.1,278.6 191.4,278.0 192.4,277.4 192.3,276.3 192.0,275.1 192.9,274.4 193.4,273.5 194.4,272.8 193.9,271.6 194.1,272.6 193.9,273.6 194.1,274.5 194.2,275.5 194.0,276.5 194.1,277.5 194.1,278.5 194.1,279.5 194.0,280.5 194.3,281.4 194.3,282.4 194.4,283.4 194.4,284.4 194.3,285.4 194.5,286.3 194.5,287.3 194.6,288.3 194.4,289.3 194.5,290.3 194.5,291.3 194.5,292.2 194.8,293.2 194.7,294.2 194.6,295.2 194.7,296.2 195.1,297.1 195.1,298.1 195.0,299.1 195.0,300.1 194.0,298.8 194.8,298.2 194.6,297.2 196.2,296.8 196.2,297.8 196.2,298.7 196.2,299.7 196.6,300.7 196.4,301.6 196.5,302.6 196.8,303.6 196.5,304.6 196.5,305.5 196.9,306.5 196.6,307.5 197.0,308.4 197.0,309.4 196.8,310.4 196.9,311.3 197.3,312.3 197.2,313.3 197.3,314.2 197.4,315.2 197.5,316.2 197.5,317.1 197.5,318.1 198.4,317.4 196.6,315.9 198.4,315.5 198.3,314.5 197.3,313.3 199.0,312.8 199.1,313.8 199.0,314.8 199.1,315.7 199.4,316.7 198.9,317.7 199.1,318.7 199.0,319.6 199.5,320.6 199.4,321.6 199.6,322.5 199.3,323.5 199.5,324.5 199.6,325.5 199.5,326.4 199.3,327.4 199.4,328.4 199.7,329.4 199.8,330.3 199.5,331.3 199.7,332.3 199.7,333.3 200.0,334.2 200.0,335.2 199.8,336.2 199.9,337.2 200.1,338.1 199.8,339.1 200.0,340.1 200.6,339.3 201.3,338.6 199.3,337.2 201.9,336.9 201.0,335.8 201.3,336.8 200.9,337.8 201.2,338.8 201.3,339.7 201.2,340.7 201.1,341.7 201.5,342.7 201.6,343.7 201.5,344.7 201.6,345.6 201.8,346.6 201.8,347.6 201.9,348.6 201.9,349.6 201.9,350.6 201.9,351.5 201.8,352.5 202.0,353.5 202.0,354.5 202.2,355.5 202.2,356.5 202.4,357.4 202.3,358.4 202.5,359.4 202.3,360.4 202.8,359.5 202.6,358.5 202.1,357.4 202.7,356.5 203.5,355.6 202.3,354.5 203.5,353.6 203.0,352.6 203.2,351.6 203.9,350.7 203.3,349.7 203.5,348.7 203.9,347.8 204.5,346.8 203.6,345.8 204.5,344.9 204.4,343.9 204.4,342.9 204.1,341.9 204.1,340.9 203.8,339.9 204.0,338.9 204.0,337.9 205.1,337.1 204.5,336.0 204.4,335.0 204.4,334.0 205.7,333.2 205.9,332.2 205.6,331.2 205.1,330.2 205.2,329.2 205.4,328.2 205.7,327.3 205.4,326.3 205.9,325.3 205.7,324.3 206.2,323.4 205.1,324.7 205.3,325.7 206.8,326.3 208.0,326.9 207.5,328.1 208.1,327.2 207.5,326.1 207.6,325.2 207.3,324.2 207.8,323.2 208.0,322.3 208.2,321.3 207.9,320.3 208.3,319.4 207.9,318.3 208.2,317.4 208.1,316.4 208.6,315.5 208.3,314.4 208.3,313.5 208.8,312.5 208.8,311.6 209.3,310.6 209.3,309.6 209.6,308.7 209.6,307.7 209.8,306.8 210.1,305.8 209.6,304.8 209.6,303.8 210.5,302.9 209.6,301.8 210.1,300.9 209.8,301.9 210.1,302.9 211.3,303.8 209.9,304.9 209.9,305.9 210.5,306.9 210.5,307.9 210.4,308.9 211.8,309.8 211.2,310.8 211.3,311.8 210.8,312.9 211.0,313.9 211.1,314.9 211.6,315.8 211.2,316.9 211.7,317.8 211.7,318.8 212.7,319.7 213.2,320.7 213.1,321.7 212.8,322.7 213.4,323.6 212.2,324.8 212.8,325.7 212.8,326.7 213.1,327.7 212.9,328.7 212.9,329.7 213.5,330.6 214.9,331.4 213.0,332.7 213.3,333.6 214.0,334.5 214.1,335.5 213.9,336.5 215.5,337.3 214.0,338.5 215.3,339.3 215.9,340.2 215.6,341.2 214.5,342.4 216.0,343.1 214.8,344.3 214.3,345.4 215.6,346.2 216.1,347.1 215.9,348.1 216.4,347.3 217.4,346.9 217.5,345.8 216.9,346.9 217.6,347.7 217.7,348.6 219.6,349.0 219.6,350.0 219.5,350.9 219.0,352.0 219.0,353.2 220.6,352.5 220.6,353.7 221.3,354.0 221.6,355.0 221.6,355.9 221.6,356.9 221.5,357.9 221.5,358.9 221.6,359.9 221.8,360.8 221.8,361.8 221.9,362.8 221.9,363.7 222.2,364.7 221.9,365.7 222.3,366.7 221.9,367.7 222.0,368.6 222.5,369.6 222.4,370.6 222.3,371.6 222.3,372.5 222.6,373.5 222.7,374.5 222.8,375.4 222.5,376.4 222.8,377.4 223.3,378.3 222.9,379.4 223.5,380.3 223.2,381.3 222.7,382.4 223.8,383.3 223.1,384.3 223.6,385.3 223.2,386.3 223.5,387.3 224.2,388.2 223.5,389.3 224.1,390.2 224.7,391.1 224.9,392.1 224.3,393.2 224.5,394.1 224.8,395.1 225.1,396.1 224.9,397.1 225.0,398.1 224.5,399.1 225.6,400.0 224.8,401.1 224.8,402.1 225.3,403.0 225.5,404.0 225.2,404.9 225.3,405.9 225.3,406.9 225.6,407.8 225.6,408.8 225.6,409.7 225.4,410.7 225.6,411.7 225.8,412.6 225.8,413.6 225.9,414.6 226.0,415.5 226.1,416.5 225.7,417.5 226.0,418.4 225.8,419.4 226.1,420.3 226.2,421.3 226.1,422.3 226.3,423.2 226.2,424.2 226.0,425.2 226.1,426.1 226.3,427.1 227.2,426.2 226.9,425.2 227.7,424.3 227.9,423.3 227.1,422.2 227.6,421.3 226.1,420.1 227.9,419.3 227.4,418.2 228.2,417.3 228.1,416.3 227.3,415.2 226.9,414.2 229.2,413.5 227.4,412.2 228.3,411.4 228.1,410.3 228.2,409.3 229.4,408.5 230.1,407.6 228.5,406.4 229.6,405.5 228.8,404.4 229.6,403.5 229.3,402.5 228.9,401.4 229.0,400.4 229.2,399.5 231.1,398.7 230.2,397.6 229.7,396.5 231.5,395.8 231.8,394.8 230.6,393.7 230.0,392.6 231.0,391.7 230.2,390.6 230.1,389.6 231.0,388.8 230.4,387.7 231.0,386.9 231.3,385.9 232.4,385.2 233.5,384.4 233.3,383.4 232.4,382.2 232.6,381.3 233.1,380.4 232.8,379.4 232.9,378.4 232.2,377.3 233.0,376.5 235.3,376.0 232.9,374.6 234.2,373.8 234.8,373.0 235.6,372.1 234.7,371.0 234.7,369.6 235.5,369.2 236.2,368.6 237.2,368.5 238.0,368.1 239.9,369.0 239.5,367.1 238.9,368.2 239.0,369.1 240.8,369.9 240.9,370.9 239.6,372.0 239.4,373.0 240.4,373.9 240.2,374.9 241.5,375.7 240.9,376.8 239.9,377.9 240.2,378.8 240.3,379.8 240.2,380.8 241.7,381.6 242.1,382.5 242.1,383.5 241.5,384.6 241.3,385.6 240.9,386.6 241.5,387.5 241.7,388.5 241.6,389.5 242.3,390.4 242.3,391.4 243.4,392.2 242.0,393.4 243.2,394.2 242.0,395.4 242.6,396.3 243.5,397.1 243.9,398.1 243.8,399.1 243.1,400.1 243.1,401.1 244.4,402.0 244.6,402.9 243.8,404.0 243.8,405.0 244.3,405.9 244.2,406.9 243.7,405.7 245.1,405.1 243.6,403.6 244.8,402.9 245.5,402.1 247.3,401.6 246.6,400.4 247.6,399.6 246.7,398.3 246.3,397.1 246.6,396.2 249.0,395.9 248.5,394.7 247.6,393.4 247.1,392.2 248.8,391.7 249.6,390.9 249.1,389.7 248.9,388.6 250.4,388.0 251.5,387.3 249.7,385.7 250.8,385.0 252.3,385.8 251.6,386.9 251.5,387.9 250.9,389.0 252.4,389.7 250.8,390.9 251.2,391.9 252.0,392.7 253.0,393.6 250.9,394.9 253.0,395.6 251.7,396.8 253.6,397.5 253.7,398.4 252.3,399.6 253.8,400.4 252.1,401.7 253.5,402.4 254.6,403.2 254.6,404.2 254.2,405.3 253.7,406.4 253.0,407.5 255.5,408.1 254.9,409.1 255.6,410.0 253.5,411.3 256.1,411.9 256.5,412.9 256.6,413.8 255.5,415.0 255.7,416.0 255.2,417.0 255.3,417.9 255.6,418.9 255.3,419.9 255.5,420.9 256.4,421.7 256.7,422.7 255.8,423.7 256.1,424.7 257.2,425.6 256.4,426.6 256.9,427.5 257.0,428.5 257.2,429.5 257.5,430.4 257.8,431.3 257.5,432.3 257.5,433.3 256.8,434.4 258.0,435.2 257.0,436.3 258.1,437.2 258.0,438.2 257.5,439.2 257.6,440.1 258.2,441.1 258.8,442.0 258.3,443.0 258.6,443.9 259.1,444.8 257.6,446.1 260.0,446.6 259.7,447.7 258.2,449.0 261.1,449.4 260.1,450.6 259.0,451.8 259.4,452.7 261.8,453.2 262.0,454.2 262.1,455.2 259.6,456.6 261.9,457.2 260.6,458.4 260.3,459.5 262.2,460.1 262.6,461.0 260.7,462.4 261.9,463.1 263.2,463.9 262.0,465.1 263.4,465.8 263.0,466.9 262.5,465.8 261.9,464.7 264.1,464.1 264.7,463.1 264.1,462.1 265.1,461.2 262.7,459.9 263.4,459.0 264.2,458.1 265.7,457.3 265.8,456.3 264.4,455.1 264.2,454.1 264.8,453.2 265.1,452.2 266.4,451.4 264.6,450.1 266.4,449.4 266.4,448.4 266.7,447.5 266.7,446.5 266.4,445.4 265.8,444.3 265.9,443.3 266.2,442.4 267.5,441.6 265.7,440.3 266.2,439.4 267.8,438.6 266.6,437.4 266.2,436.4 266.3,435.4 267.7,434.6 267.7,435.6 268.5,436.5 266.8,437.8 267.2,438.7 267.1,439.7 269.3,440.4 269.9,441.3 270.0,442.3 269.0,443.4 268.6,444.5 269.5,445.4 270.2,446.3 269.9,447.3 269.4,448.4 269.4,449.4 269.4,450.4 269.2,451.5 269.9,452.4 271.6,453.1 269.7,454.4 271.4,455.2 270.8,456.2 271.5,457.1 270.6,458.3 272.3,459.0 272.3,460.0 272.4,461.0 272.8,462.0 272.0,463.1 273.4,462.3 272.6,461.2 272.0,460.1 272.4,459.1 274.4,458.5 273.1,457.3 272.4,456.1 274.4,455.5 274.1,454.4 275.3,453.6 272.7,452.2 274.0,451.4 275.3,450.6 275.5,449.7 275.9,448.7 273.4,447.3 274.4,446.4 274.0,445.4 274.4,444.4 277.0,443.9 276.0,442.7 277.2,441.9 275.7,440.6 277.4,439.9 276.3,438.7 275.9,437.7 277.6,437.0 278.3,436.1 275.9,434.6 277.6,433.9 277.8,433.0 276.8,431.8 277.4,430.9 278.0,430.0 277.3,429.0 277.6,428.0 277.8,427.1 278.7,426.3 278.9,425.4 278.0,424.3 277.7,423.3 278.6,422.5 279.5,421.6 278.5,420.5 278.9,419.6 278.8,418.7 280.2,417.9 279.8,416.9 278.8,415.8 279.9,415.0 279.3,414.0 279.9,413.0 280.3,412.1 280.6,411.2 279.7,410.1 279.9,409.1 281.0,408.3 280.6,407.3 280.5,406.3 280.6,405.3 281.9,404.5 280.9,403.4 281.4,402.5 281.2,401.5 281.4,400.5 282.3,399.6 282.7,398.7 281.6,397.6 281.4,396.6 282.5,395.7 281.6,394.7 281.4,393.7 283.1,392.9 282.4,391.8 283.2,390.9 282.6,389.9 283.5,389.0 282.9,388.0 282.4,386.9 282.3,385.9 283.4,385.1 283.6,384.1 284.2,383.2 282.8,382.1 283.7,381.2 283.5,382.2 284.4,383.1 284.1,384.1 285.3,384.9 285.1,386.0 284.5,387.0 283.5,388.2 286.0,388.8 285.1,389.9 284.3,391.0 284.0,392.1 286.4,392.7 286.7,393.7 284.5,395.0 284.6,396.0 286.1,396.7 287.5,397.5 285.2,398.9 286.9,399.6 285.5,400.8 286.5,401.6 286.1,402.7 288.1,403.4 286.5,404.6 288.2,405.4 287.9,406.4 286.8,407.6 287.0,408.5 289.0,409.2 289.0,410.2 288.6,411.3 288.4,412.3 289.0,413.2 289.9,414.0 289.7,415.1 288.5,416.3 288.1,417.3 289.4,418.1 288.6,417.0 289.8,416.2 290.3,415.2 288.9,414.1 290.7,413.3 289.3,412.1 290.4,411.3 290.4,410.3 290.7,409.3 290.2,408.3 290.5,407.3 291.0,406.4 290.8,405.4 291.3,404.5 291.0,403.4 291.1,402.5 290.4,401.4 291.7,400.5 291.6,399.5 291.2,398.5 292.4,397.7 292.5,396.7 292.0,395.6 291.5,394.6 292.2,393.7 291.6,392.6 291.8,391.6 292.5,390.7 291.9,389.7 292.8,388.8 293.0,387.8 292.2,386.7 293.5,385.9 292.5,384.8 293.9,384.0 294.1,383.0 293.7,382.0 292.9,380.9 293.9,380.0 293.8,379.0 295.1,378.2 293.5,377.0 295.1,376.2 295.5,375.2 295.1,374.2 295.4,373.2 294.2,372.1 296.0,371.3 295.1,370.2 296.1,369.4 296.2,368.4 294.8,367.2 296.1,366.4 296.5,365.5 294.9,364.3 295.9,363.4 296.9,362.7 297.8,364.6 298.8,361.8 299.7,365.3 300.7,363.4 301.4,364.3 300.2,365.5 301.9,366.2 301.2,367.3 300.3,368.4 302.2,369.2 302.2,370.2 301.7,371.2 302.3,372.2 303.1,373.1 302.9,374.1 303.0,375.0 301.3,376.3 302.1,377.2 301.7,378.2 303.5,379.0 302.2,380.1 303.9,380.9 303.1,382.0 302.9,383.0 303.7,383.9 302.6,385.1 303.5,385.9 303.6,386.9 303.0,388.0 305.0,388.7 303.0,390.0 304.0,390.9 304.4,391.8 304.4,390.8 305.9,390.3 304.6,388.9 307.1,388.7 306.1,387.3 305.8,386.2 307.3,385.7 306.6,384.5 306.1,383.3 308.1,383.0 306.4,381.4 308.9,381.3 307.6,379.8 309.0,379.3 310.3,378.7 309.5,377.4 310.0,376.6 309.2,375.3 310.1,374.6 311.9,374.9 312.2,375.8 312.2,376.9 311.3,378.3 312.2,379.0 312.3,380.0 311.6,381.3 314.1,381.3 314.2,382.3 313.4,383.7 315.6,383.9 316.0,384.7 315.4,386.0 316.5,386.6 315.7,388.0 315.8,389.0 315.9,390.0 315.8,391.0 315.8,392.0 316.0,393.0 315.9,394.0 316.0,394.9 316.2,395.9 315.8,396.9 316.2,397.9 316.3,398.9 316.3,399.9 316.1,400.9 316.0,401.9 316.1,402.9 316.3,403.9 316.4,404.9 316.6,405.9 316.3,406.9 316.4,407.8 316.5,408.8 316.4,409.8 316.6,410.8 316.4,411.8 316.5,412.8 316.8,413.8 316.5,414.8 316.9,415.8 316.7,416.8 316.8,417.8 317.0,418.8 317.1,419.7 316.8,420.8 317.2,421.7 317.0,422.7 316.8,423.7 317.2,424.7 317.2,425.7 317.1,426.7 317.2,427.7 317.1,428.7 317.1,429.7 317.4,430.7 317.4,431.7 317.4,432.7 317.6,433.6 317.2,434.6 317.3,435.6 317.4,436.6 317.8,437.6 317.4,438.6 317.6,439.6 318.6,438.9 318.0,437.7 319.1,437.0 318.5,435.8 318.1,434.7 318.0,433.6 318.6,432.8 318.3,431.7 319.4,431.0 320.9,430.4 321.0,429.4 321.7,428.6 321.6,427.6 320.5,426.3 321.6,425.6 321.5,424.5 322.9,423.9 322.3,422.7 321.8,421.6 323.2,421.0 324.4,420.3 322.4,418.7 324.7,418.3 322.3,416.7 323.3,416.0 323.5,415.0 325.3,414.5 326.2,413.7 325.1,412.4 326.3,413.2 326.5,411.1 328.2,413.1 328.2,410.5 329.0,409.8 330.8,412.3 331.2,410.9 332.2,410.8 333.0,410.4 333.6,409.4 332.6,410.5 333.9,411.4 333.2,412.5 333.6,413.4 333.4,414.4 334.5,415.3 334.0,416.4 334.5,417.3 335.2,418.2 335.6,419.2 334.7,420.3 336.2,421.1 334.3,422.4 336.3,423.1 336.7,424.0 336.6,425.1 334.8,426.3 336.3,427.1 336.9,428.0 337.3,429.0 337.4,430.0 336.0,431.2 336.3,432.1 336.2,433.1 336.3,434.1 338.0,434.9 336.9,436.1 337.6,437.0 336.6,438.1 336.7,439.1 336.7,440.1 338.8,440.8 337.0,442.1 337.0,443.1 337.1,444.1 339.2,444.8 339.1,445.8 339.4,446.8 339.8,447.7 338.0,449.0 338.2,449.9 338.7,450.9 338.4,451.9 339.3,452.8 339.9,451.9 339.0,450.8 338.6,449.7 338.8,448.8 341.0,448.2 339.4,446.9 340.0,446.0 340.5,445.1 339.4,444.0 340.3,443.1 340.5,442.2 342.1,441.5 341.2,440.4 341.2,439.4 343.3,438.8 342.1,437.6 343.3,436.8 342.8,435.7 341.2,434.5 342.5,433.7 342.8,432.8 344.0,432.0 342.8,430.8 344.1,430.1 343.8,429.0 343.0,427.9 344.0,427.1 343.5,428.5 346.1,428.1 344.6,430.1 346.9,429.9 347.8,430.4 347.8,431.6 346.8,433.3 346.7,434.5 349.8,433.7 349.0,435.3 349.5,436.2 350.0,437.0 349.2,438.1 351.3,438.7 350.5,439.8 351.1,440.7 349.8,441.9 351.7,442.6 349.7,443.8 351.9,444.5 352.3,445.4 351.0,446.6 351.7,447.4 353.1,448.1 351.6,449.4 353.5,450.0 351.5,451.3 351.9,452.2 351.8,453.2 352.5,454.1 353.5,454.9 353.5,455.9 353.6,456.8 352.3,458.0 354.9,458.5 353.8,459.7 355.3,459.4 353.4,457.3 354.4,456.7 355.0,455.9 357.2,456.0 356.6,454.5 356.7,453.5 358.6,453.3 357.3,451.5 358.4,451.0 359.0,450.2 359.4,449.3 358.9,450.5 359.1,451.4 359.7,452.3 360.8,453.0 361.2,453.9 361.9,454.7 360.1,456.2 360.9,457.0 360.9,458.1 362.9,458.6 362.3,459.7 361.5,460.9 362.4,461.7 364.0,462.3 363.2,463.6 362.2,464.8 364.4,465.3 364.8,466.2 364.1,467.4 364.4,466.2 366.1,466.8 367.2,466.6 366.3,464.0 367.9,464.4 368.7,465.3 368.7,466.3 368.6,467.3 368.3,468.3 369.2,469.2 369.0,470.2 369.4,471.1 367.8,472.3 368.5,473.2 369.9,474.0 368.2,475.2 370.1,476.0 369.7,477.0 368.5,478.1 369.0,479.0 369.3,480.0 370.0,480.9 370.6,481.8 369.8,482.9 371.1,483.7 371.0,484.7 370.7,485.7 371.6,486.6 370.7,487.7 371.2,488.6 370.1,489.7 370.6,490.6 371.3,491.5 371.1,492.5 371.7,493.3 372.9,494.1 371.6,495.3 372.4,496.1 371.5,497.2 371.2,498.2 372.8,498.9 372.5,499.9 372.1,501.0 373.3,501.7 374.0,502.6 372.7,503.8 373.5,504.6 372.6,505.8 373.1,506.7 373.5,507.6 373.3,508.6 374.0,509.5 374.3,510.4 375.1,511.2 375.8,512.1 375.0,513.2 376.8,513.8 376.1,515.0 375.2,516.2 375.6,517.1 376.1,518.0 377.4,518.7 377.1,519.7 377.2,520.7 377.3,521.7 377.8,520.8 377.3,519.7 378.2,518.9 379.1,518.1 377.1,516.8 378.6,516.0 379.1,515.1 378.2,514.0 378.6,513.1 380.1,512.4 377.6,511.0 379.2,510.2 378.2,509.1 380.2,508.4 380.8,507.6 379.7,506.4 378.7,505.3 380.2,504.5 380.2,503.6 380.9,502.7 380.4,501.6 381.0,500.7 381.7,499.9 380.9,498.8 381.0,497.8 381.6,498.7 380.3,500.1 382.7,500.3 381.6,501.7 382.8,502.4 382.0,503.7 384.2,504.0 381.9,505.8 384.1,506.1 385.2,506.8 384.9,507.9 384.8,509.0 384.8,510.0 385.1,511.0 384.9,511.9 385.0,512.9 384.9,513.9 385.1,514.9 385.2,515.8 385.3,516.8 385.1,517.8 385.1,518.8 385.3,519.7 385.5,520.7 385.3,521.7 385.6,522.6 385.7,523.6 385.8,524.6 385.5,525.6 385.6,526.5 385.7,527.5 385.8,528.5 385.9,529.4 386.1,530.4 385.8,531.4 386.1,532.3 386.0,533.3 386.0,534.3 386.1,535.3 386.3,536.2 386.4,537.2 386.4,538.2 386.6,539.1 386.3,540.1 386.6,541.1 386.4,542.1 386.8,543.0 386.7,544.0 387.3,544.8 388.0,545.5 387.8,546.5 388.8,547.2 389.6,547.9 387.7,549.4 389.3,549.9 389.7,550.7 389.8,551.6 389.5,552.7 389.7,551.7 389.8,550.8 390.6,550.0 390.9,549.0 390.3,547.9 392.2,547.4 392.3,546.4 390.1,544.8 392.7,544.4 393.1,543.6 393.0,542.5 391.3,541.1 393.6,540.7 393.3,539.6 391.6,538.2 391.9,537.2 394.9,537.0 394.3,535.8 393.3,534.6 394.3,533.8 395.7,534.5 395.7,535.5 395.6,536.5 394.1,537.7 395.6,538.5 396.3,539.3 394.2,540.6 394.7,541.5 396.8,542.2 394.7,543.5 395.7,544.3 395.3,545.3 395.8,546.2 395.3,547.3 395.8,548.2 395.8,549.1 397.0,549.9 396.5,548.9 397.6,548.0 397.4,547.0 397.9,546.1 397.4,545.1 398.4,544.2 397.9,543.2 397.4,542.2 397.5,541.2 397.4,540.3 398.2,539.4 397.5,538.3 398.4,537.4 397.9,536.4 398.6,535.5 398.7,534.6 398.9,533.6 399.7,532.8 398.1,531.6 399.8,530.8 399.3,529.8 399.6,530.7 399.6,531.8 399.5,532.8 399.2,533.9 400.9,534.5 401.0,535.5 399.6,536.9 402.5,537.2 401.1,538.6 401.3,539.5 403.4,540.0 401.9,541.4 401.9,542.4 401.4,543.6 403.5,544.1 401.8,545.5 403.4,546.1 403.7,547.1 403.8,546.1 404.8,545.3 403.0,544.1 404.7,543.3 404.6,542.3 404.1,541.3 405.4,540.5 404.4,539.4 404.7,538.4 405.0,537.5 405.7,536.6 404.5,535.5 405.1,534.6 405.2,533.6 405.6,532.7 406.4,531.8 405.3,530.7 406.6,529.9 405.8,528.8 406.1,527.9 405.7,526.9 406.4,526.0 406.5,525.0 407.1,524.1 406.8,523.1 407.1,522.1 406.7,521.1 406.8,520.1 406.8,519.2 407.2,518.2 407.4,517.2 407.6,516.3 406.9,515.2 407.7,514.3 408.0,513.4 407.7,512.4 407.3,511.4 407.7,510.4 407.4,509.4 407.7,508.5 408.6,507.6 408.3,506.6 408.5,505.6 408.4,504.6 408.6,503.6 408.7,502.6 408.6,501.6 408.7,500.7 408.7,499.7 408.8,498.7 408.8,497.7 408.9,496.7 408.7,495.7 409.0,494.7 408.9,493.8 409.1,492.8 408.9,491.8 409.0,490.8 408.9,489.8 409.3,488.8 409.5,487.9 409.4,486.9 409.3,485.9 409.6,484.9 409.6,483.9 409.5,482.9 409.5,481.9 409.5,480.9 409.6,480.0 409.6,479.0 409.7,478.0 409.9,477.0 410.1,476.0 409.7,475.0 410.0,474.1 409.8,473.1 409.9,472.1 410.3,471.1 410.2,470.1 410.4,469.1 410.3,468.1 410.1,467.1 410.3,466.2 410.5,465.2 410.7,464.2 410.8,463.2 410.6,462.2 410.6,461.2 410.5,460.2 410.8,459.3 410.7,458.3 410.7,457.3 410.7,456.3 410.7,455.3 411.1,454.3 410.9,453.3 411.3,452.4 411.0,451.4 411.2,450.4 411.4,449.4 411.1,448.4 411.0,447.4 411.4,446.4 411.2,445.4 411.5,444.4 411.2,443.4 411.2,442.4 411.6,441.5 411.6,440.5 411.6,439.5 411.6,438.5 411.3,437.5 411.6,436.5 411.7,435.5 411.6,434.5 411.8,433.5 411.5,432.5 411.9,431.5 411.8,430.5 411.5,429.5 411.5,428.5 411.8,427.5 412.0,426.5 411.6,425.5 411.8,424.5 412.0,423.6 411.7,422.6 412.1,421.6 411.9,420.6 411.8,419.6 411.9,418.6 412.1,417.6 412.0,416.6 412.2,415.6 412.1,414.6 411.3,413.4 413.5,412.9 412.4,411.6 413.6,410.9 413.8,409.9 413.4,408.8 413.5,407.8 415.0,407.2 415.7,406.4 415.5,405.3 415.1,404.2 414.5,403.0 414.1,401.9 417.1,401.6 415.9,400.3 415.9,401.3 415.9,402.3 416.2,403.3 416.1,404.3 416.0,405.3 416.2,406.3 416.4,407.3 416.6,408.3 416.6,409.3 416.4,410.3 416.7,411.3 416.7,412.3 416.8,413.3 416.7,414.3 416.8,415.3 417.1,416.2 417.3,417.2 417.3,418.2 417.3,419.2 417.3,420.2 417.2,421.2 417.3,422.2 417.8,423.2 417.4,424.2 417.5,425.2 417.6,426.2 417.8,427.2 418.0,428.2 417.8,429.2 417.9,430.2 418.0,431.2 418.0,432.2 418.3,433.2 418.5,434.2 418.4,435.2 418.3,436.2 418.7,437.2 418.5,438.2 418.5,439.2 418.9,440.2 418.8,441.2 418.8,442.2 419.0,443.2 419.2,444.2 419.2,445.2 419.1,446.2 419.1,447.2 419.3,448.2 419.6,449.1 419.3,450.2 419.4,451.2 419.7,452.1 419.6,453.1 419.6,454.1 419.6,455.1 419.9,456.1 420.0,457.1 420.0,458.1 420.3,459.1 420.3,460.1 420.4,461.1 420.2,462.1 420.5,463.1 420.4,464.1 420.6,465.1 420.6,466.1 420.7,465.1 420.3,464.1 420.2,463.1 421.7,462.2 420.9,461.1 420.6,460.1 421.5,459.2 421.8,458.2 421.0,457.1 421.8,456.2 421.5,455.1 421.8,454.2 421.2,453.1 421.3,452.1 422.8,451.3 422.8,450.2 422.3,449.2 422.5,448.2 422.2,447.2 423.0,446.3 422.6,445.2 423.5,444.3 423.3,443.3 423.5,442.3 423.8,441.3 422.9,440.2 422.7,439.2 423.0,438.2 423.1,437.2 423.0,436.2 423.1,435.2 423.9,434.3 424.5,433.3 424.0,432.3 424.8,431.4 424.8,430.4 423.7,429.3 424.6,428.3 424.4,427.3 424.1,426.3 425.4,425.4 424.5,424.3 425.1,423.4 425.3,422.4 425.8,421.4 425.5,420.4 425.2,419.4 425.4,418.4 425.1,417.3 426.3,416.5 426.5,415.5 425.5,414.4 425.3,413.3 425.7,412.4 426.0,411.4 426.9,410.5 427.0,409.5 427.0,408.5 425.9,407.4 427.1,406.5 427.1,405.5 427.1,404.5 427.7,403.5 426.5,402.4 426.7,401.4 427.7,400.5 428.0,399.6 427.8,398.5 427.6,397.5 428.4,398.3 427.8,399.5 427.5,400.5 429.8,401.0 429.3,402.1 429.8,403.0 430.4,403.9 429.6,405.1 430.8,405.8 430.8,406.8 431.3,407.7 430.0,409.0 432.2,409.5 430.3,411.0 432.1,411.5 432.9,412.3 430.4,414.0 432.8,414.4 430.9,415.9 431.3,416.8 431.5,417.7 432.9,418.4 433.1,419.4 433.0,420.4 433.2,421.4 432.9,422.4 433.0,423.4 433.1,424.4 433.2,425.4 433.3,426.4 433.1,427.4 433.3,428.4 433.3,429.4 433.6,430.3 433.6,431.3 433.7,432.3 433.5,433.3 433.6,434.3 433.8,435.3 433.5,436.3 433.8,437.3 433.8,438.3 434.0,439.3 434.0,440.3 433.7,441.3 434.0,442.3 434.2,443.3 434.0,444.3 434.2,445.3 433.9,446.3 434.4,447.3 434.0,448.3 434.5,449.2 434.1,450.3 434.3,451.2 434.5,452.2 434.4,453.2 434.6,454.2 434.6,455.2 434.7,456.2 434.7,457.2 434.4,458.2 434.5,459.2 434.5,460.2 435.0,461.2 434.9,462.2 434.7,463.2 435.1,464.2 434.8,465.2 435.1,466.2 434.8,467.2 435.3,468.2 435.0,469.2 435.3,470.2 435.4,471.1 435.5,472.1 435.1,473.1 435.3,474.1 435.5,475.1 435.5,476.1 435.3,477.1 435.7,478.1 435.5,479.1 435.8,480.1 435.8,481.1 435.7,482.1 437.0,481.8 437.4,480.9 436.7,479.2 437.1,478.1 437.7,477.4 439.6,477.6 439.9,476.6 439.9,475.3 440.4,474.4 442.0,474.4 442.3,473.4 441.9,474.5 441.8,475.5 442.7,476.3 444.1,477.0 444.7,477.8 442.9,479.2 444.1,480.0 443.4,481.1 445.6,481.6 443.5,483.1 445.2,483.7 443.9,485.0 444.0,486.0 445.4,486.7 447.0,487.3 444.5,488.8 446.0,489.5 446.2,490.5 445.2,491.6 447.2,492.3 447.6,493.2 445.8,494.6 447.4,495.3 448.2,496.2 447.7,497.3 447.2,498.4 449.2,499.0 447.8,500.3 448.1,501.2 448.1,502.2 449.5,503.0 447.8,504.3 447.7,505.3 447.7,506.3 449.5,507.0 448.5,508.2 449.7,509.0 448.7,510.2 451.0,510.8 449.8,512.0 449.5,513.5 449.8,514.4 451.5,514.2 452.1,515.0 452.6,515.8 453.2,516.5 455.0,516.3 453.3,518.9 455.7,518.2 456.4,518.9 457.1,519.4 457.3,520.5 457.3,521.7 458.4,520.9 456.2,519.5 456.6,518.6 458.6,518.0 457.2,516.8 456.8,515.7 458.8,515.1 458.9,514.1 458.9,513.2 459.6,512.3 457.9,511.0 460.5,510.5 460.2,509.5 458.3,508.2 458.7,507.2 460.0,506.5 460.2,505.6 459.7,504.5 459.3,503.4 460.4,502.6 459.7,501.6 461.0,500.8 461.1,499.8 461.3,498.9 461.1,497.9 461.3,496.9 461.5,495.9 461.3,494.9 461.7,494.0 461.8,493.0 461.6,492.0 461.7,491.1 462.0,490.1 461.9,489.1 461.9,488.1 462.2,487.2 462.2,486.2 462.1,485.2 462.1,484.2 462.3,483.3 462.4,482.3 462.7,481.3 462.7,480.4 462.8,479.4 462.9,478.4 462.9,477.4 462.6,476.4 462.9,475.5 463.0,474.5 464.7,474.2 465.0,473.3 463.3,471.6 464.2,470.9 465.1,470.3 464.7,469.1 465.5,468.4 464.6,467.0 466.0,466.5 466.5,465.8 465.5,464.3 466.2,463.6 468.9,463.7 468.7,462.6 469.5,461.9 468.6,460.5 468.8,459.5 469.0,458.6 469.1,457.6 469.2,456.6 468.7,455.6 469.2,454.6 469.0,453.6 469.4,452.7 469.2,451.7 469.5,450.7 469.8,449.8 469.7,448.8 469.5,447.8 469.8,446.8 469.8,445.8 470.2,444.9 469.9,443.9 470.0,442.9 470.3,441.9 470.0,440.9 470.4,440.0 470.8,439.0 470.6,438.0 470.5,437.0 470.7,436.1 470.8,435.1 470.6,434.1 470.7,433.1 470.8,432.1 471.0,431.2 471.2,430.2 471.2,429.2 471.2,428.2 471.2,427.2 471.6,426.3 471.9,425.3 471.8,424.3 471.9,423.3 472.0,422.4 471.8,421.4 472.2,420.4 472.1,419.4 472.3,418.5 472.4,417.5 472.4,416.5 472.5,415.5 472.2,414.5 472.2,413.5 472.4,412.5 473.4,411.8 473.2,410.7 474.1,409.9 472.5,408.6 473.8,407.9 475.5,407.3 473.8,405.9 475.0,405.2 475.0,404.2 474.5,403.1 476.9,402.6 475.0,401.2 476.6,400.6 475.0,399.2 476.2,398.5 477.7,399.2 475.5,400.6 477.0,401.3 478.3,402.0 477.5,403.2 477.6,404.1 476.9,405.3 479.0,405.8 478.8,406.8 476.8,408.3 477.7,409.1 479.7,409.6 479.3,410.7 479.5,411.7 478.7,412.8 479.0,413.7 478.5,414.8 478.8,415.8 480.0,416.5 480.1,417.5 479.6,418.6 479.7,419.6 479.9,420.5 480.9,421.4 480.1,422.5 480.5,423.5 480.0,424.5 482.6,425.1 480.5,426.5 483.3,427.0 481.1,428.4 481.8,429.3 482.3,430.2 481.0,431.4 482.4,432.2 483.0,433.1 482.0,434.3 481.9,435.3 482.9,436.1 483.7,437.0 483.7,438.0 483.7,439.0 483.8,440.0 483.7,441.0 484.0,442.0 484.0,442.9 484.0,443.9 484.1,444.9 484.2,445.9 484.0,446.9 484.0,447.9 484.3,448.9 484.3,449.9 484.5,450.9 484.5,451.8 484.7,452.8 484.5,453.8 484.6,454.8 484.8,455.8 484.5,456.8 484.8,457.8 484.7,458.8 484.7,459.8 484.7,460.8 485.1,461.7 485.1,462.7 484.9,463.7 485.4,464.7 485.4,465.7 485.2,466.7 485.3,467.7 485.2,468.7 485.3,469.6 485.5,470.6 485.3,471.6 485.6,472.6 485.7,473.6 485.8,474.6 485.5,475.6 486.5,476.5 486.7,477.4 486.2,478.5 487.0,479.4 485.5,480.6 486.4,481.5 486.9,482.4 488.2,483.2 487.6,484.3 487.7,485.3 487.4,486.3 487.5,487.3 486.8,488.4 486.7,489.4 488.2,490.2 488.4,491.2 488.1,492.2 487.2,493.3 489.1,494.1 488.8,495.1 488.1,496.2 490.0,496.9 489.7,498.0 489.4,499.0 488.5,500.6 489.4,501.2 490.7,501.6 492.3,501.8 490.6,503.8 491.6,504.4 491.7,505.4 491.7,506.5 492.5,507.2 494.0,507.5 493.9,506.5 493.3,505.5 493.8,504.6 494.6,503.7 494.7,502.8 494.0,501.7 494.1,500.8 495.5,500.0 495.5,499.1 495.0,498.0 496.9,497.3 496.0,496.2 494.5,495.1 495.7,494.3 496.9,493.5 495.7,492.3 496.9,491.5 495.1,490.3 496.1,489.5 497.7,488.8 496.9,487.7 497.2,486.8 497.5,485.8 496.6,484.8 497.4,483.9 497.6,483.0 497.1,481.9 498.1,481.1 497.9,480.1 499.1,479.3 498.3,478.2 498.0,477.2 497.5,476.2 497.7,475.2 499.2,474.4 497.8,473.3 497.9,472.3 498.2,471.4 499.1,470.6 500.0,469.7 499.6,468.7 500.2,467.8 498.6,466.6 499.7,465.8 501.4,466.5 499.2,467.8 500.7,468.6 499.7,469.7 501.0,470.5 501.7,471.3 501.6,472.3 502.3,473.2 499.9,474.6 501.1,475.4 502.0,476.2 501.8,477.2 502.2,478.1 503.4,478.9 501.0,480.3 502.1,481.1 501.1,482.2 502.9,482.9 502.5,484.0 503.8,484.7 504.6,485.6 502.0,487.0 503.5,487.7 502.9,488.8 504.1,489.6 503.1,490.7 503.3,491.7 504.4,492.5 504.0,493.6 503.4,494.6 504.4,495.5 503.6,496.5 505.1,497.4 504.9,498.4 504.4,499.4 505.5,500.3 505.4,501.3 504.5,502.4 505.3,503.2 504.8,504.3 506.0,505.1 506.3,506.1 506.0,507.1 506.5,508.0 505.1,509.2 506.5,510.0 506.1,511.0 506.3,512.0 507.7,512.7 506.6,513.9 507.3,514.8 507.4,515.7 508.7,516.4 508.7,517.4 506.7,518.8 508.4,519.5 508.9,520.3 509.3,521.2 509.2,522.2 509.6,523.2 510.4,524.0 508.7,525.3 509.9,526.1 510.6,526.9 509.2,528.2 510.0,529.0 511.1,529.8 510.8,530.8 509.6,532.0 511.4,532.7 510.7,533.8 510.0,534.8 510.2,535.8 511.8,536.5 511.5,537.5 510.7,538.6 511.6,539.5 510.4,540.6 511.6,541.4 510.9,540.3 513.2,539.6 512.1,538.4 511.4,537.3 512.2,536.5 511.5,535.3 513.3,534.6 512.1,533.4 514.1,532.7 513.4,531.6 512.9,530.5 512.7,529.5 513.9,528.6 512.9,527.5 514.9,526.8 512.9,525.5 514.2,524.7 514.5,523.7 513.8,522.6 515.4,521.8 514.5,520.7 515.4,519.8 515.3,518.8 514.7,517.7 515.1,516.7 514.4,515.6 515.7,514.8 516.9,515.5 515.1,517.0 517.0,517.5 516.2,518.7 518.1,519.3 517.0,520.6 517.8,521.4 517.7,522.4 518.5,523.2 519.5,524.0 519.0,525.1 519.5,526.0 520.0,526.9 518.5,528.3 520.1,528.9 519.9,530.0 518.7,531.3 519.3,532.2 520.4,532.9 521.3,534.7 522.2,534.6 523.2,531.1 524.1,531.8 525.0,532.9 523.8,531.7 525.8,531.1 525.9,530.1 525.2,529.1 525.5,528.1 526.4,527.3 526.6,526.4 525.5,525.2 527.4,524.6 526.1,523.4 527.0,522.6 525.9,521.4 525.8,520.4 528.3,519.9 527.9,518.8 528.0,517.9 526.2,516.6 526.3,515.7 526.9,514.8 528.0,514.0 527.8,513.0 527.8,512.1 527.8,511.1 527.6,510.1 527.7,509.1 527.8,508.2 527.6,507.2 527.9,506.2 527.7,505.2 527.7,504.3 527.5,503.3 527.5,502.3 527.6,501.3 527.4,500.4 527.2,499.4 527.6,498.4 527.5,497.4 527.2,496.5 527.1,495.5 527.4,494.5 527.3,493.5 527.0,492.6 527.0,491.6 526.9,490.6 527.2,489.6 526.9,488.7 527.0,487.7 528.6,487.5 528.6,486.5 527.3,484.6 529.4,484.8 529.1,483.5 530.5,483.2 531.2,482.6 530.2,480.9 530.1,479.8 532.9,480.3 532.0,478.7 533.8,478.7 533.6,477.5 533.6,476.4 534.6,475.7 535.2,474.9 535.0,473.8 534.8,472.7 534.0,471.3 536.2,471.1 535.7,469.9 536.3,469.1 537.9,468.6 535.9,466.8 538.1,466.6 536.3,464.9 538.6,464.7 539.2,463.9 537.9,462.4 539.1,461.8 539.3,460.8 538.0,462.0 539.2,462.8 539.6,463.7 540.7,464.5 541.4,465.4 540.7,466.5 540.7,467.5 541.5,468.3 541.3,469.3 542.0,470.2 540.4,471.5 540.7,472.4 542.1,473.2 542.3,474.1 541.6,475.2 542.0,476.1 540.6,477.3 542.6,478.0 542.9,478.9 541.3,480.2 543.7,480.8 542.6,482.0 543.4,482.8 542.1,484.0 543.1,484.8 542.6,485.9 544.5,486.6 543.2,487.8 543.5,488.7 544.0,489.6 544.1,488.6 545.2,487.9 545.6,486.9 543.6,485.5 544.3,484.7 544.7,483.8 544.5,482.7 544.2,481.7 545.1,480.9 545.0,479.9 546.7,479.2 546.2,478.1 545.3,476.9 546.2,476.1 546.8,475.3 546.7,474.2 546.3,473.2 546.2,472.1 546.2,471.2 549.4,470.8 548.8,469.7 547.0,468.3 549.1,467.8 550.1,467.0 549.0,465.8 547.8,464.5 549.2,463.8 549.2,462.8 548.7,461.7 549.9,461.0 550.0,460.0 548.9,458.6 551.9,458.7 551.5,457.5 551.8,456.7 553.0,456.1 552.5,454.9 551.7,453.6 552.0,452.7 552.1,451.7 552.1,450.7 553.8,450.4 555.1,450.2 555.9,449.6 555.2,447.8 555.5,446.8 557.2,447.0 558.4,446.6 559.2,446.0 558.0,443.8 559.4,443.7 559.0,444.9 559.2,445.8 559.9,446.6 561.5,446.9 562.3,447.6 560.8,449.3 562.7,449.5 562.9,450.4 562.8,451.5 563.7,452.1 562.8,453.6 564.1,454.0 564.7,454.9 565.1,455.9 564.3,457.0 564.3,458.0 564.1,459.0 564.4,459.9 564.2,461.0 564.2,462.0 565.1,462.9 565.2,463.9 565.9,464.8 565.7,465.8 565.4,466.8 566.3,467.7 565.4,468.8 566.4,469.7 566.0,470.7 565.2,471.8 566.8,472.6 567.0,473.6 566.5,474.7 567.0,475.6 566.2,476.7 567.5,477.6 566.2,478.7 566.3,479.7 567.0,480.6 568.2,480.0 567.4,478.7 567.4,477.7 568.8,477.2 568.7,476.1 568.7,475.1 568.8,474.1 569.5,473.3 570.5,472.7 571.2,471.9 571.8,471.1 570.0,469.4 570.7,468.7 571.4,467.9 572.1,467.2 571.8,466.0 572.6,465.3 573.8,465.9 574.4,466.7 574.0,467.8 573.9,468.9 572.7,470.3 573.2,471.1 573.6,472.0 573.6,473.0 573.9,473.9 575.2,474.5 574.9,475.6 577.4,475.7 575.9,477.2 576.4,478.1 577.6,478.7 577.1,479.9 576.3,481.1 578.0,481.6 578.2,482.5 578.9,481.7 578.0,480.5 578.4,479.6 580.2,479.0 577.8,477.5 578.5,476.6 580.2,476.0 579.7,474.9 578.8,473.7 580.8,473.2 580.1,472.0 581.0,471.2 580.7,470.2 581.2,469.3 581.6,468.4 581.3,467.3 580.6,466.2 582.0,465.5 581.4,464.5 583.1,463.7 582.5,462.7 581.6,461.6 583.4,460.9 582.2,459.8 581.9,458.8 583.0,458.0 582.5,456.9 583.2,456.1 583.4,455.1 582.8,454.1 583.7,453.3 582.8,452.2 583.8,451.3 583.9,450.4 584.8,449.9 584.3,448.0 585.8,448.0 585.7,446.5 587.3,446.7 589.0,447.0 588.9,445.5 589.5,444.7 590.3,443.9 590.6,442.9 588.8,441.6 591.7,441.1 591.0,440.0 589.3,438.8 591.7,438.2 590.5,437.0 591.0,436.1 591.6,437.0 590.5,438.1 591.2,439.0 591.0,440.1 592.1,440.9 591.2,442.0 592.4,442.9 592.2,443.9 592.1,444.9 592.8,445.8 592.0,446.9 592.7,447.8 592.7,448.8 592.1,449.8 592.7,450.8 592.0,451.8 592.6,452.7 592.3,453.8 592.9,454.7 592.4,455.7 592.6,456.7 593.8,457.6 593.0,458.6 593.7,459.5 593.2,460.6 593.4,461.6 593.3,462.6 594.5,463.4 594.2,464.4 593.7,465.5 593.5,466.5 594.3,467.4 594.9,466.5 593.6,465.3 594.9,464.5 593.9,463.4 595.0,462.6 595.7,461.6 594.3,460.5 596.2,459.7 595.8,458.7 595.0,457.6 595.0,456.6 595.6,455.7 596.6,454.9 596.1,453.8 595.3,452.7 595.2,451.7 595.5,450.8 597.1,450.0 595.9,448.8 596.8,448.0 596.4,446.9 597.3,446.1 596.8,445.0 596.4,444.0 598.1,443.2 597.5,442.1 597.9,441.2 598.3,440.3 598.7,439.3 596.8,438.1 597.7,437.2 597.4,436.2 598.2,435.3 599.2,434.4 599.1,433.5 598.6,432.4 599.4,433.3 599.3,434.3 598.4,435.4 598.7,436.4 599.3,437.3 599.2,438.3 599.8,439.2 598.9,440.3 599.7,441.2 599.1,442.3 599.5,443.2 600.4,444.1 600.1,445.1 600.4,446.1 599.5,447.2 600.1,448.1 601.0,449.0 600.9,450.0 600.7,451.0 600.6,452.0 600.6,453.0 600.8,454.0 601.8,453.5 602.7,453.3 603.7,451.6 604.6,454.4 605.6,454.0 606.1,454.9 606.8,455.8 606.0,456.8 605.1,457.9 607.1,458.6 607.0,459.6 606.0,460.6 607.0,461.5 607.1,462.4 606.7,463.4 607.3,464.3 606.8,465.3 607.0,466.3 606.2,467.3 606.3,468.3 607.4,469.1 606.6,467.5 608.5,467.5 609.6,467.0 610.3,466.4 610.5,465.4 610.6,464.4 611.1,463.5 611.2,462.5 611.9,463.4 612.4,464.2 611.1,465.6 611.1,466.6 611.1,467.6 612.2,468.4 613.6,469.1 612.4,470.4 612.8,471.3 613.7,472.1 613.6,473.2 614.7,473.9 614.3,475.0 615.0,475.9 615.0,476.9 614.1,475.5 615.2,474.9 615.5,474.0 617.8,473.9 616.7,472.4 616.7,471.3 616.7,470.3 617.0,469.4 617.7,468.6 617.4,467.5 617.4,466.4 620.3,466.5 619.4,465.1 619.7,464.2 620.4,463.5 620.6,462.5 621.4,463.3 622.1,464.1 622.7,465.0 622.2,466.2 622.4,467.1 621.4,468.4 622.2,469.2 621.3,470.5 623.4,471.0 621.9,472.4 623.1,473.1 624.9,473.6 624.9,474.6 623.9,475.9 624.4,476.8 624.9,479.2 626.4,476.5 627.0,478.6 628.2,477.1 628.8,479.3 630.0,477.8 629.8,475.9 631.5,476.5 633.3,477.1 632.6,474.7 633.3,474.0 633.5,472.7 634.6,472.5 635.6,472.2 637.4,472.8 637.1,470.8 638.5,471.0 638.4,470.0 638.0,468.9 639.4,468.2 640.5,467.5 640.0,466.4 638.8,465.1 640.7,464.5 641.6,463.8 640.7,462.6 639.3,461.3 641.8,460.8 642.2,459.9 640.8,458.6 640.3,457.5 640.7,456.6 642.0,455.9 643.2,455.2 642.3,454.0 642.9,453.1 643.9,452.3 641.9,450.9 642.4,450.0 643.9,449.3 643.7,448.2 643.1,447.1 644.1,446.3 643.3,445.2 642.6,444.0 643.8,443.2 642.8,442.1 644.8,441.4 644.0,440.3 644.7,439.4 645.2,438.5 644.3,437.3 645.1,436.5 643.9,435.3 646.8,434.7 645.9,433.6 647.3,432.8 646.0,431.6 645.0,430.5 646.6,429.8 647.0,428.8 646.1,427.8 645.6,426.7 645.9,425.8 646.0,424.9 647.7,424.1 646.1,422.9 648.1,422.3 647.3,421.2 647.7,420.3 647.9,419.3 648.0,418.4 648.4,417.5 648.4,416.5 647.8,415.5 649.0,414.7 647.9,413.5 649.2,412.8 649.4,411.8 648.9,410.8 650.0,410.1 648.9,408.8 650.5,408.2 651.4,407.5 650.1,406.1 649.8,405.0 650.8,404.3 652.3,403.7 650.2,402.1 650.1,401.0 651.7,400.5 652.5,399.7 653.2,398.9 652.6,397.7 652.4,396.7 654.3,396.0 652.3,394.7 653.9,394.0 652.2,392.8 652.1,391.8 652.6,390.9 652.5,389.9 653.9,389.2 654.2,388.3 653.3,387.2 655.6,386.6 654.1,385.4 653.6,384.3 653.9,383.4 655.6,382.7 656.3,381.8 654.2,380.5 654.0,379.5 655.5,378.8 656.4,378.0 655.1,376.8 657.3,376.2 656.1,375.0 656.6,374.2 655.9,373.1 657.3,372.3 656.5,371.3 656.3,370.3 658.0,369.6 656.0,368.3 657.8,367.6 656.1,366.4 657.9,365.7 657.3,364.7 658.8,363.9 656.7,362.6 658.2,361.9 657.9,360.9 658.3,360.0 658.6,359.0 658.7,358.1 658.6,357.1 658.5,356.1 658.6,355.1 658.7,354.2 658.8,353.2 658.8,352.2 658.9,351.3 659.2,350.3 659.2,349.3 659.2,348.3 659.6,347.4 659.3,346.4 659.5,345.4 659.4,344.5 659.8,343.5 659.9,342.5 659.7,341.5 660.0,340.6 660.1,339.6 659.9,338.6 660.0,337.7 660.2,336.7 660.3,335.7 660.6,334.8 660.2,333.7 660.7,332.8 660.7,331.8 660.7,330.8 660.8,329.8 661.1,328.9 660.8,327.8 661.3,326.9 661.0,325.9 661.4,324.9 661.5,323.9 661.2,322.9 661.7,322.0 661.9,321.0 661.5,320.0 661.4,319.0 661.6,318.0 662.2,317.1 661.7,316.0 662.3,315.1 661.9,314.1 662.4,313.1 662.1,312.1 662.2,311.1 662.6,310.2 662.3,309.2 662.5,308.2 663.0,307.3 663.0,306.3 663.1,305.3 663.3,304.3 662.8,303.3 663.0,302.3 663.4,301.4 663.4,300.4 663.1,299.3 663.5,298.4 663.4,297.4 663.6,296.4 663.5,295.4 663.5,294.4 664.2,293.5 663.9,292.5 664.3,291.5 663.9,290.5 664.2,289.5 664.1,288.5 664.4,287.6 664.5,286.6 665.8,287.2 664.7,288.7 666.6,289.0 665.2,290.6 666.3,291.3 667.8,291.8 667.4,293.0 667.4,294.1 667.7,295.0 667.5,296.0 667.9,297.0 668.0,298.0 667.7,299.0 667.8,300.0 667.9,301.0 668.1,302.0 668.2,303.0 668.2,303.9 668.4,304.9 668.4,305.9 668.3,306.9 668.4,307.9 668.3,308.9 668.5,309.9 668.7,310.9 668.4,311.9 668.5,312.9 668.6,313.9 668.6,314.9 668.6,315.9 668.5,316.9 668.6,317.9 668.7,318.9 668.9,319.9 669.0,320.9 669.0,321.9 668.8,322.9 669.1,323.8 669.2,324.8 669.2,325.8 669.4,326.8 669.0,327.8 669.6,328.8 669.3,329.8 669.2,330.8 669.6,331.8 669.5,332.8 669.6,333.8 669.7,334.8 669.8,335.8 669.9,336.8 669.6,337.8 669.7,338.8 669.6,339.8 670.1,340.8 669.8,341.8 670.1,342.8 670.0,343.8 670.0,344.7 670.2,345.7 669.9,346.7 670.5,347.7 670.1,348.7 670.1,349.7 670.4,350.7 670.4,351.7 670.2,352.7 670.5,353.7 670.2,352.7 670.9,351.8 671.2,350.8 670.7,349.8 671.4,348.9 670.9,347.9 671.3,346.9 671.5,346.0 671.7,345.0 671.2,344.0 671.8,343.1 671.8,342.1 671.4,341.1 672.1,340.2 671.7,339.1 672.8,338.3 672.2,337.2 672.7,336.3 672.5,335.3 672.5,334.3 672.2,333.3 672.2,332.4 673.5,331.5 673.0,330.5 673.1,329.5 673.2,328.5 673.8,327.6 673.0,326.6 673.0,325.6 674.1,324.7 673.6,323.7 674.0,322.8 674.4,321.8 674.6,320.9 674.7,319.9 673.5,318.8 674.3,317.9 674.4,316.9 676.1,316.6 676.4,315.8 674.9,314.0 675.4,313.2 676.1,312.4 676.1,311.4 677.2,310.9 678.0,310.2 677.8,311.5 679.0,311.9 679.8,312.6 681.2,312.8 681.0,314.2 680.0,316.0 681.8,316.0 681.5,317.1 682.5,317.9 682.6,318.8 681.9,320.0 682.3,320.9 684.4,321.4 683.0,322.8 684.2,323.5 684.0,324.5 685.1,325.2 685.0,326.3 685.3,327.2 685.5,328.2 686.8,328.9 686.5,330.0 685.6,331.2 687.4,331.7 687.3,332.8 686.0,334.2 687.6,334.7 687.7,335.7 688.2,336.6 686.6,338.0 689.1,338.4 687.7,339.8 688.4,340.6 688.6,339.6 688.3,338.6 688.5,337.6 688.7,336.6 688.7,335.6 688.6,334.7 688.5,333.7 688.7,332.7 688.7,331.7 688.9,330.7 688.8,329.7 688.9,328.7 689.0,327.7 689.2,326.7 689.0,325.7 689.0,324.7 689.2,323.8 689.4,322.8 689.1,321.8 689.5,320.8 689.4,319.8 689.3,318.8 689.5,317.8 689.4,316.8 689.3,315.8 689.6,314.8 689.5,313.8 689.6,312.9 689.7,311.9 689.9,310.9 689.9,309.9 689.6,308.9 689.9,307.9 689.9,306.9 689.9,305.9 690.1,304.9 690.0,303.9 690.0,302.9 690.3,302.0 690.1,301.0 690.2,300.0 690.2,299.0 690.4,298.0 690.3,297.0 691.1,296.2 691.6,295.3 690.9,294.1 690.1,292.8 692.3,292.5 692.2,291.4 693.1,290.7 692.6,289.5 692.3,290.8 694.6,290.6 694.8,291.6 695.7,292.2 694.1,294.2 696.5,294.0 697.1,294.8 695.7,296.6 696.9,297.1 697.6,296.7 697.0,294.9 699.0,295.8 699.6,295.3 699.7,294.2 699.9,295.1 701.4,295.8 699.7,297.2 700.7,297.9 700.4,299.0 699.3,300.2 700.0,301.0 700.1,302.0 702.5,302.5 702.1,303.6 701.7,304.6 703.5,305.3 700.6,306.8 703.0,307.3 702.5,308.4 703.4,309.2 703.4,310.2 703.7,311.1 702.0,312.4 703.1,313.2 703.4,314.1 703.9,315.0 705.2,315.7 704.6,316.8 703.0,318.0 703.3,318.9 703.3,319.9 705.3,320.6 705.7,321.5 706.3,322.3 705.0,323.5 705.6,324.4 705.4,325.4 705.6,326.4 705.7,327.4 705.6,328.4 706.2,329.3 705.3,330.4 706.9,331.2 705.3,332.4 706.3,333.2 707.6,334.1 707.1,335.1 706.7,336.2 707.2,337.1 706.9,338.1 707.6,339.0 707.9,340.0 706.7,341.2 708.1,342.0 707.2,343.1 707.1,344.1 707.8,345.0 708.2,345.9 707.2,347.1 708.5,347.9 707.6,349.0 709.7,349.7 708.9,350.8 708.5,351.9 709.0,352.8 707.9,351.5 710.6,351.2 708.4,349.7 710.2,349.1 709.2,347.9 711.7,347.5 710.8,346.2 711.7,345.5 711.1,344.3 711.8,343.5 712.0,342.6 711.1,341.3 711.1,340.3 713.2,339.8 711.4,338.4 713.9,338.0 712.0,336.6 711.9,335.5 712.1,334.6 714.4,334.2 713.8,333.0 715.1,332.2 713.8,331.0 714.6,330.2 713.7,329.1 715.6,328.3 715.1,327.3 713.8,326.1 713.7,325.1 715.6,324.4 714.0,323.2 716.2,322.5 714.9,321.4 714.9,320.4 716.0,319.6 715.4,318.5 716.2,317.6 715.2,316.5 717.4,315.8 716.0,314.7 717.5,313.9 716.7,312.8 718.0,313.5 716.2,314.9 715.8,316.0 717.8,316.6 719.1,317.3 718.2,318.5 717.6,319.6 719.1,320.3 718.3,321.5 719.9,322.1 718.9,323.3 718.3,324.4 719.4,325.2 718.9,326.3 720.8,326.9 718.8,328.3 721.1,328.9 718.9,330.3 718.9,331.3 719.2,332.2 720.7,332.9 721.6,333.8 721.6,334.8 720.6,336.0 721.5,336.8 720.4,338.0 723.2,338.4 722.2,339.6 722.3,340.6 723.6,339.9 723.0,338.8 723.0,337.8 721.8,336.6 722.2,335.6 722.8,334.8 724.9,334.2 724.9,333.3 723.2,331.9 725.6,331.4 723.0,329.9 725.0,329.3 726.3,328.6 724.6,327.3 726.6,326.7 725.9,325.6 724.3,324.2 725.3,323.5 725.9,322.6 725.4,321.5 727.2,320.9 725.6,319.6 727.7,319.0 727.0,317.9 727.0,316.9 726.9,315.9 727.3,315.0 727.1,314.0 727.4,313.1 727.6,312.1 727.6,311.1 727.6,310.1 727.5,309.2 727.8,308.2 727.6,307.2 728.0,306.3 727.8,305.3 728.1,304.3 728.1,303.3 728.2,302.4 728.4,301.4 728.2,300.4 728.3,299.5 728.7,298.5 728.5,297.5 728.8,296.6 728.9,295.6 728.8,294.6 728.7,293.6 728.8,292.7 729.2,291.7 728.9,290.7 729.2,289.8 729.3,288.8 729.2,287.8 729.4,286.9 729.3,285.9 729.6,284.9 729.7,283.9 729.7,283.0 729.8,282.0 729.0,280.9 729.8,280.1 729.4,279.0 729.3,278.0 729.9,277.1 732.0,276.5 731.0,275.4 732.4,274.7 729.9,273.2 732.9,272.8 731.7,271.6 732.8,270.8 732.3,269.7 732.8,268.9 731.6,267.7 733.3,267.0 731.7,265.7 732.2,264.8 731.6,263.8 732.9,263.0 733.5,262.2 733.6,261.2 734.4,262.0 732.8,263.4 735.5,263.8 734.2,265.1 735.5,265.8 734.6,267.0 734.2,268.1 734.6,269.0 736.8,269.5 736.5,270.6 735.6,271.8 734.7,273.0 737.7,273.3 736.2,274.7 736.2,275.7 736.0,276.7 737.7,277.3 737.4,278.4 738.8,279.4 739.2,277.5 740.9,279.1 740.4,274.9 742.8,278.5 743.0,276.3 743.6,277.2 743.9,278.1 745.1,278.8 744.9,279.9 743.8,281.3 744.2,282.2 746.1,282.6 745.8,283.8 746.7,284.5 746.8,285.5 747.1,286.5 747.0,287.5 745.4,289.1 745.6,290.1 746.5,290.8 747.7,291.5 748.0,292.4 748.2,293.4 747.6,294.6 747.5,295.6 748.2,296.4 748.8,297.3 750.4,297.9 749.4,299.2 750.0,300.0 749.3,301.1 749.6,302.0 751.3,302.8 750.0,303.9 751.0,304.8 751.5,305.7 749.8,306.9 750.6,307.7 750.5,308.7 752.0,309.5 750.6,310.7 750.5,311.7 750.7,312.6 751.1,313.5 751.1,314.5 751.3,315.5 751.9,316.4 752.3,317.3 751.6,318.4 751.8,319.3 751.7,320.3 753.1,321.1 752.8,322.1 754.5,322.0 753.8,320.5 755.4,320.3 753.6,318.2 756.4,318.7 755.6,317.2 755.5,318.2 755.8,319.1 755.6,320.1 756.0,321.1 756.0,322.1 756.0,323.0 756.1,324.0 756.1,325.0 755.9,326.0 756.1,326.9 756.1,327.9 756.3,328.9 756.2,329.9 756.2,330.8 756.4,331.8 756.3,332.8 756.4,333.8 756.7,334.7 756.9,335.7 756.6,336.7 756.6,337.7 756.9,338.6 756.8,339.6 756.8,340.6 756.9,341.5 757.3,342.5 757.1,343.5 757.4,344.4 757.4,345.4 757.1,346.4 757.4,347.4 757.3,348.4 757.5,349.3 757.5,350.3 758.2,351.1 758.7,352.0 758.5,353.0 757.2,354.3 758.0,355.1 759.2,355.8 760.0,356.7 759.6,357.7 758.5,358.9 759.5,359.7 759.0,360.8 758.7,361.8 761.0,362.3 759.5,363.6 761.6,364.2 759.4,365.6 761.5,366.1 761.5,367.1 759.5,368.5 761.5,369.1 761.3,370.1 760.6,369.0 762.8,368.4 762.1,367.2 763.2,366.4 761.8,365.2 762.3,364.3 763.8,363.5 762.6,362.3 764.3,361.6 762.0,360.2 764.1,359.6 762.2,358.3 763.5,357.5 762.0,356.2 762.7,355.4 765.3,354.8 763.9,353.6 765.2,352.8 763.6,351.5 764.1,350.6 763.5,349.5 765.0,348.8 766.2,347.9 765.3,346.8 765.0,345.8 766.9,345.1 766.9,344.1 766.4,343.0 764.7,341.7 766.6,341.0 766.2,340.0 767.9,339.3 766.2,338.0 767.3,337.2 767.0,336.1 766.8,337.1 767.7,337.9 767.4,339.0 767.1,340.0 766.6,341.0 767.9,341.8 768.4,342.7 766.8,343.9 769.6,344.4 767.5,345.7 768.1,346.6 768.6,347.5 769.1,348.4 768.3,349.5 768.1,350.5 768.7,351.4 768.8,352.3 771.0,352.9 769.8,354.1 769.9,353.0 769.9,352.0 772.5,352.7 772.9,351.8 771.5,349.7 773.2,349.8 773.7,349.0 772.8,347.3 774.5,347.4 774.6,348.4 774.4,349.4 774.5,350.4 774.7,351.4 774.5,352.4 774.7,353.4 774.6,354.4 774.7,355.4 774.5,356.4 774.7,357.3 774.6,358.3 774.7,359.3 774.9,360.3 774.6,361.3 774.8,362.3 774.8,363.3 775.0,364.3 775.1,365.3 774.9,366.3 774.8,367.3 774.9,368.3 775.1,369.3 775.2,370.3 775.1,371.3 774.9,372.3 775.3,373.3 775.0,374.3 775.3,375.2 775.3,376.2 775.4,377.2 775.4,378.2 775.3,379.2 775.1,380.2 775.1,381.2 775.5,382.2 775.5,383.2 775.4,384.2 774.5,385.6 777.0,385.5 777.0,386.5 777.0,387.5 778.3,387.9 778.2,388.9 778.2,389.9 778.2,390.9 778.7,390.0 780.7,391.2 779.9,388.5 780.5,387.8 782.8,389.4 782.5,387.5 784.1,388.1 784.4,387.0 784.8,386.0 785.8,385.2 784.6,384.0 784.2,383.0 786.2,382.4 785.5,381.3 785.9,380.4 786.5,379.5 786.9,378.6 785.6,377.4 786.0,376.5 787.9,375.8 786.8,374.7 786.2,373.6 787.5,372.8 786.5,371.7 788.2,371.0 786.1,369.7 787.7,369.0 787.9,368.0 787.8,367.1 787.7,366.1 788.1,365.1 787.8,364.1 787.8,363.2 787.7,362.2 788.0,361.2 788.1,360.3 788.1,359.3 788.1,358.3 788.3,357.3 788.0,356.4 788.1,355.4 788.3,354.4 788.5,353.5 788.4,352.5 788.4,351.5 788.5,350.5 788.4,349.6 788.7,348.6 788.6,347.6 788.5,346.6 788.5,345.7 788.6,344.7 790.1,345.4 789.9,343.2 790.4,342.2 792.7,344.2 792.8,342.5 793.6,342.0 794.7,342.1 795.2,341.0 796.5,340.2 794.4,338.9 795.2,338.1 794.5,337.0 795.7,336.2 796.1,335.3 797.2,334.4 796.9,333.4 796.7,332.4 796.4,331.4 797.0,330.5 796.3,329.4 798.1,328.7 798.1,327.7 798.4,326.8 796.6,325.5 798.2,324.8 798.6,323.9 798.0,322.8 798.3,323.8 797.3,325.0 797.6,326.0 798.3,326.8 798.3,327.8 799.1,328.6 798.7,329.8 801.2,330.1 799.7,331.6 800.0,332.5 800.5,333.4 801.8,334.1 802.7,334.9 801.3,336.2 800.9,337.4 802.8,337.9 803.3,338.8 803.5,339.8 804.1,340.6 802.7,342.0 802.0,343.2 803.7,343.8 804.3,342.9 803.7,341.8 804.4,340.9 803.4,339.8 804.8,339.0 804.0,337.9 803.6,336.8 804.8,336.0 804.0,334.9 804.4,333.9 804.1,332.9 804.9,332.0 805.2,331.1 805.7,330.1 804.5,329.0 806.0,328.2 804.9,327.1 805.2,326.1 806.0,325.2 805.6,324.2 805.7,323.2 806.2,322.2 805.7,321.2 806.8,320.3 805.9,319.2 806.5,318.3 808.0,318.7 808.6,318.1 808.6,316.7 808.1,314.7 810.5,316.3 809.4,313.6 811.2,314.4 811.5,315.3 812.1,316.1 813.5,316.6 812.2,318.1 812.2,319.1 813.0,319.9 813.8,320.6 813.8,321.6 814.0,322.6 815.4,323.1 813.8,324.7 813.8,325.7 814.7,326.4 814.5,327.5 816.7,327.7 815.1,329.3 816.9,329.7 815.9,328.4 817.4,327.8 816.7,326.5 817.9,325.9 818.9,325.1 819.3,324.2 818.8,323.0 818.8,322.0 818.6,320.9 819.5,320.1 819.5,319.0 819.5,318.0 821.4,317.6 821.1,316.4 821.1,315.4 821.6,314.5 821.4,313.2 823.2,313.4 822.4,311.7 823.1,311.1 824.4,310.9 825.2,310.4 826.5,310.1 826.4,309.0 826.3,307.8 825.3,309.2 825.7,310.1 826.6,310.8 827.0,311.7 829.2,311.9 829.1,312.9 830.0,313.6 827.9,315.4 828.6,316.2 829.2,317.0 830.6,317.5 830.7,318.5 831.6,319.2 830.5,320.6 829.8,321.9 832.1,322.1 833.2,322.7 833.2,323.7 833.0,324.8 832.9,325.9 834.3,325.1 834.2,324.1 833.3,322.9 832.4,321.8 832.6,320.8 832.9,319.8 835.0,319.2 834.2,318.1 836.0,317.4 835.9,316.3 835.7,315.3 834.9,314.2 836.2,313.4 834.2,312.0 834.3,311.0 835.9,310.3 835.9,309.3 835.1,308.1 835.4,307.2 834.9,306.1 837.8,305.6 837.4,304.5 838.3,303.7 838.6,302.7 837.1,301.4 838.1,300.6 837.6,299.5 838.2,298.7 839.7,300.1 840.5,299.9 840.1,296.7 840.7,295.9 842.3,297.5 843.4,298.3 842.5,299.4 843.3,300.3 844.6,301.0 842.3,302.4 842.7,303.4 843.8,304.1 845.3,304.8 843.0,306.3 844.3,307.0 845.9,307.6 845.3,308.7 844.6,309.9 844.0,311.0 845.4,311.7 845.2,312.7 846.7,313.4 846.0,314.5 847.3,314.0 846.8,316.9 848.7,315.3 850.0,314.7 849.9,317.0 851.6,315.7 851.7,317.5 851.0,316.3 852.0,315.6 852.6,314.7 853.0,313.8 853.4,312.9 852.8,311.7 851.9,310.5 854.1,310.0 852.2,308.6 853.7,307.9 853.7,306.9 854.8,306.1 855.1,305.2 853.9,303.9 855.3,303.3 855.7,302.3 855.2,301.2 855.5,300.3 856.5,301.2 854.8,302.4 855.7,303.3 857.1,304.1 856.8,305.1 855.1,306.4 857.1,307.1 856.8,308.1 856.0,309.2 856.0,310.2 856.6,311.1 856.5,312.2 858.4,312.9 858.4,313.9 856.3,315.2 856.9,316.1 858.9,316.8 859.0,317.8 858.7,318.9 857.1,320.1 859.0,320.8 858.0,322.0 857.5,323.0 858.3,323.9 857.8,325.0 859.5,325.8 859.9,326.7 859.2,327.8 859.0,326.8 859.4,325.8 859.1,324.8 859.5,323.8 859.4,322.8 859.2,321.9 859.5,320.9 859.3,319.9 859.5,318.9 859.3,317.9 859.6,316.9 859.7,315.9 859.8,314.9 859.4,313.9 859.8,312.9 859.7,312.0 859.8,311.0 859.7,310.0 859.8,309.0 859.8,308.0 859.9,307.0 859.6,306.0 859.6,305.0 859.9,304.0 859.8,303.0 859.9,302.0 859.7,301.0 860.1,300.1 859.8,299.1 860.2,298.1 860.2,297.1 860.1,296.1 859.9,295.1 860.2,294.1 860.0,293.1 860.2,292.1 860.1,291.1 860.5,290.2 860.3,289.2 860.3,288.2 860.2,287.2 860.5,286.2 860.6,285.2 860.6,284.2 860.3,283.2 860.4,282.2 860.4,281.2 860.7,280.3 860.4,279.3 860.7,278.3 860.9,277.3 860.8,276.3 860.5,275.3 860.5,274.3 860.6,273.3 860.9,272.3 860.9,271.3 860.8,270.3 860.8,269.4 860.8,268.4 861.0,267.4 861.0,266.4 861.2,265.4 861.0,264.4 860.8,265.4 860.8,266.4 860.7,267.4 860.9,268.4 861.2,269.3 862.3,270.2 861.4,271.3 861.3,272.3 862.0,273.2 861.5,274.3 862.6,275.2 861.6,276.3 862.4,277.2 862.1,278.2 862.9,279.1 862.9,280.1 862.9,281.1 863.1,282.1 863.5,283.0 863.1,284.1 862.4,285.1 863.0,286.1 862.7,287.1 863.0,288.0 863.0,289.0 862.9,290.0 863.3,291.0 864.1,291.9 864.3,292.9 864.0,293.9 864.1,292.9 863.4,291.6 864.3,291.0 866.6,290.9 867.1,290.1 865.7,288.5 867.4,288.1 867.7,287.3 868.4,286.5 867.7,285.2 867.4,286.2 867.9,287.2 868.6,288.1 867.6,289.2 868.5,290.1 868.1,291.1 868.6,292.1 868.4,293.1 867.9,294.1 869.2,295.0 868.8,296.0 868.7,297.0 868.9,298.0 868.5,299.0 869.3,299.9 868.7,301.0 869.1,301.9 868.8,302.9 870.2,303.8 870.1,304.8 870.1,305.8 869.3,306.9 870.7,307.7 870.4,308.7 869.9,309.8 869.6,310.8 870.9,311.7 870.5,312.7 870.9,313.6 870.2,314.7 870.4,315.6 870.4,316.6 870.5,317.5 872.2,318.2 872.4,319.1 873.2,320.0 871.4,321.3 873.0,321.9 873.0,322.9 871.0,324.2 872.2,325.0 872.5,325.9 872.4,326.9 872.8,327.8 872.6,328.8 873.4,329.6 873.6,330.6 873.9,331.5 874.0,332.5 874.1,333.5 873.9,334.5 874.2,335.5 874.3,336.5 874.1,337.5 873.8,338.5 874.1,339.5 874.5,340.4 874.2,341.4 874.7,342.4 874.9,343.4 874.8,344.4 874.8,345.4 874.7,346.4 875.0,347.3 874.9,348.3 875.4,349.3 875.2,350.3 874.2,351.6 876.3,351.9 875.1,353.3 877.8,353.3 875.7,355.0 877.8,355.3 876.2,356.8 876.6,357.6 877.3,358.4 878.8,358.8 879.9,359.5 879.6,360.5 879.0,361.7 880.4,361.0 878.4,359.6 880.1,358.9 880.1,357.9 880.5,357.0 879.3,355.8 879.3,354.8 879.4,353.8 882.3,353.4 880.7,352.1 881.7,351.3 881.7,350.3 880.8,349.1 880.5,348.1 880.6,347.1 883.3,346.7 881.3,345.3 884.1,344.9 882.5,343.5 883.8,342.8 882.2,341.5 884.4,340.9 883.7,339.8 884.6,340.6 884.5,341.6 884.2,342.7 885.6,343.4 885.4,344.4 883.9,345.7 885.6,346.3 885.5,347.3 884.5,348.5 886.4,349.1 886.6,350.0 886.7,351.0 886.4,352.1 886.6,353.0 886.0,354.1 886.7,354.9 885.6,356.1 888.3,356.6 886.6,357.9 886.3,358.9 887.5,359.7 888.3,360.6 888.9,361.5 888.1,362.7 889.0,363.5 888.3,364.6 887.8,365.7 889.4,366.5 889.5,367.5 888.8,368.6 889.6,369.5 889.6,370.5 889.2,371.6 890.2,372.4 890.4,373.4 889.8,374.5 889.7,375.5 888.7,376.7 889.8,377.5 891.1,378.4 890.9,379.4 890.3,380.5 890.4,381.8 891.5,382.1 891.4,383.5 893.0,383.4 894.7,382.8 894.6,381.8 892.6,380.2 895.4,379.9 894.4,378.6 893.8,377.4 893.9,376.4 896.2,376.1 894.5,374.6 894.4,373.5 895.2,372.7 897.5,372.3 896.3,370.9 897.4,370.2 895.7,368.7 897.1,368.1 897.0,367.0 897.8,366.2 898.0,367.1 897.9,368.1 898.1,369.1 898.3,370.0 897.9,371.0 898.2,371.9 898.5,372.9 898.6,373.8 898.4,374.8 898.5,375.8 898.8,376.7 898.7,377.7 898.6,378.7 898.8,379.6 899.0,378.7 898.4,377.6 899.2,376.7 899.6,375.8 899.9,374.9 898.7,373.7 900.6,373.0 901.1,372.1 900.7,371.1 901.1,370.2 900.0,369.0 901.5,368.3 899.7,367.1 900.0,366.1 901.1,365.3 902.1,364.5 900.0,363.2 900.5,362.3 900.2,361.3 901.4,360.5 900.7,359.4 901.0,358.5 902.6,357.7 902.3,356.7 903.4,355.9 902.1,354.7 902.5,353.8 902.1,354.9 904.3,355.5 901.6,356.9 904.0,357.5 903.4,358.6 903.5,359.5 902.3,360.7 903.8,361.4 902.5,362.7 903.8,363.4 905.2,364.2 903.5,365.4 905.6,366.1 903.3,367.4 905.1,368.1 906.0,368.9 903.9,370.3 906.0,370.9 905.9,371.9 906.3,372.8 905.5,373.9 907.6,374.6 906.7,375.7 907.5,376.5 905.6,377.9 908.3,378.4 906.6,379.6 907.9,380.4 907.3,381.5 907.5,380.6 908.2,379.8 908.9,379.1 907.6,377.5 908.2,376.8 908.2,375.7 911.0,375.8 909.0,374.0 909.3,373.1 910.7,372.6 911.2,371.8 912.5,371.2 910.4,369.4 912.0,369.0 911.6,368.0 911.5,367.0 912.5,366.2 912.4,365.2 912.4,364.3 913.5,363.5 913.1,362.5 913.6,361.6 914.0,360.7 912.6,359.6 914.2,358.8 913.2,357.7 912.5,356.7 914.4,356.0 912.9,354.8 913.8,354.0 913.4,352.0 914.8,352.2 915.6,351.6 917.9,353.1 917.6,351.1 916.7,352.2 918.1,353.0 918.0,354.0 917.2,355.1 917.5,356.0 918.0,356.9 918.6,357.8 919.9,358.6 919.6,359.6 918.6,360.8 919.0,361.7 918.5,362.8 919.5,363.6 920.9,363.0 921.4,362.0 919.3,360.5 919.2,359.5 921.9,359.2 921.1,358.0 920.2,356.7 922.0,356.1 920.9,354.9 921.1,353.9 921.7,353.0 922.4,352.2 923.1,351.4 921.5,350.0 923.8,349.5 923.3,348.4 924.0,347.6 923.8,346.5 924.7,345.8 925.4,345.0 923.3,343.3 925.0,342.8 925.9,342.0 926.3,341.1 926.0,340.0 926.8,339.3 925.8,337.9 928.4,337.9 928.3,336.9 927.1,335.3 928.1,334.7 929.9,334.4 929.0,333.0 928.6,331.8 929.6,331.4 931.5,331.5 931.8,330.7 930.4,328.9 932.2,328.9 932.0,327.8 932.8,328.5 932.3,329.8 932.3,330.8 934.5,330.9 934.6,331.9 934.2,333.1 933.7,332.1 933.9,331.1 933.6,330.1 933.9,329.2 934.6,328.3 934.7,327.3 934.1,326.3 935.3,325.4 936.2,324.5 935.5,323.5 935.2,322.5 936.0,321.6 935.6,320.6 935.1,319.5 935.9,318.6 935.0,317.6 936.5,316.8 935.6,315.7 936.4,314.8 936.2,313.8 938.2,313.1 937.7,312.0 938.1,311.1 937.7,310.0 937.8,309.1 938.2,308.1 939.2,307.3 937.0,305.9 938.9,305.3 937.6,304.0 937.7,303.0 938.6,302.2 939.8,301.5 939.4,300.4 940.3,299.6 940.6,298.7 940.0,297.6 939.0,296.4 938.7,295.3 940.5,294.7 941.3,293.9 940.1,292.7 939.7,291.6 939.8,290.6 941.5,290.0 940.8,288.9 942.3,288.2 940.6,287.0 941.3,286.2 941.5,285.2 942.8,284.5 943.7,283.6 941.3,282.3 941.7,281.4 943.9,280.8 944.2,279.9 942.2,278.6 942.8,277.8 943.4,276.9 943.0,275.9 943.6,275.0 943.6,274.0 943.7,273.1 943.6,272.1 943.6,271.1 943.6,270.2 943.7,269.2 943.7,268.2 944.0,267.3 944.1,266.3 944.0,265.3 944.3,264.4 944.3,263.4 944.1,262.4 944.2,261.5 944.3,260.5"/>
</g>
<ellipse cx="936.5" cy="233.4" rx="49.7" ry="53.5" fill="rgba(215,242,255,0.3)" stroke="#4483a1" stroke-width="4" pathLength="110" stroke-dasharray="6 4" stroke-dashoffset="5.5"/>
<g stroke-width="9.5" stroke-linecap="round">
<line x1="175" y1="52.9" x2="255.2" y2="52.9" stroke="#dc0019"/>
<line x1="175" y1="95.6" x2="255.2" y2="95.6" stroke="#4483a1"/>
</g>

<g opacity="0.999">
<text transform="translate(263.4,63.8) scale(0.917,1)">Dollar relative 1y forward carry across G10 (lhs)</text>
<text transform="translate(263.4,106) scale(0.90,1)">DXY (rhs)</text>
<text transform="translate(125.0,115.4) scale(0.775,1)" text-anchor="end"><tspan stroke-width="0.6">%</tspan></text>
<text transform="translate(102.3,115.4) scale(1.03,1)" text-anchor="end">3<tspan dx="-2.6" stroke-width="0.5">.</tspan><tspan dx="-2.6">00</tspan></text>
<text transform="translate(125.0,192.6) scale(0.775,1)" text-anchor="end"><tspan stroke-width="0.6">%</tspan></text>
<text transform="translate(102.3,192.6) scale(1.03,1)" text-anchor="end">2<tspan dx="-2.6" stroke-width="0.5">.</tspan><tspan dx="-2.6">00</tspan></text>
<text transform="translate(125.0,269.8) scale(0.775,1)" text-anchor="end"><tspan stroke-width="0.6">%</tspan></text>
<text transform="translate(102.3,269.8) scale(1.03,1)" text-anchor="end">1<tspan dx="-2.6" stroke-width="0.5">.</tspan><tspan dx="-2.6">00</tspan></text>
<text transform="translate(125.0,347) scale(0.775,1)" text-anchor="end"><tspan stroke-width="0.6">%</tspan></text>
<text transform="translate(102.3,347) scale(1.03,1)" text-anchor="end">0<tspan dx="-2.6" stroke-width="0.5">.</tspan><tspan dx="-2.6">00</tspan></text>
<text transform="translate(125.0,424.2) scale(0.775,1)" text-anchor="end"><tspan stroke-width="0.6">%</tspan></text>
<text transform="translate(102.3,424.2) scale(1.03,1)" text-anchor="end">-1<tspan dx="-2.6" stroke-width="0.5">.</tspan><tspan dx="-2.6">00</tspan></text>
<text transform="translate(125.0,501.4) scale(0.775,1)" text-anchor="end"><tspan stroke-width="0.6">%</tspan></text>
<text transform="translate(102.3,501.4) scale(1.03,1)" text-anchor="end">-2<tspan dx="-2.6" stroke-width="0.5">.</tspan><tspan dx="-2.6">00</tspan></text>
<text transform="translate(125.0,578.6) scale(0.775,1)" text-anchor="end"><tspan stroke-width="0.6">%</tspan></text>
<text transform="translate(102.3,578.6) scale(1.03,1)" text-anchor="end">-3<tspan dx="-2.6" stroke-width="0.5">.</tspan><tspan dx="-2.6">00</tspan></text>
<text transform="translate(975,115.4) scale(0.953,1)" text-anchor="start">120</text>
<text transform="translate(975,208) scale(0.953,1)" text-anchor="start">110</text>
<text transform="translate(975,300.6) scale(0.953,1)" text-anchor="start">100</text>
<text transform="translate(975,393.4) scale(0.984,1)" text-anchor="start">90</text>
<text transform="translate(975,486) scale(0.984,1)" text-anchor="start">80</text>
<text transform="translate(975,578.6) scale(0.984,1)" text-anchor="start">70</text>
<text transform="translate(156.1,621.5) scale(0.976,1)" text-anchor="middle">2002</text>
<text transform="translate(313.2,621.5) scale(0.976,1)" text-anchor="middle">2006</text>
<text transform="translate(470.3,621.5) scale(0.976,1)" text-anchor="middle">2010</text>
<text transform="translate(627.4,621.5) scale(0.976,1)" text-anchor="middle">2014</text>
<text transform="translate(784.5,621.5) scale(0.976,1)" text-anchor="middle">2018</text>
<text transform="translate(941.6,621.5) scale(0.976,1)" text-anchor="middle">2022</text>
</g>
</svg></body></html>
